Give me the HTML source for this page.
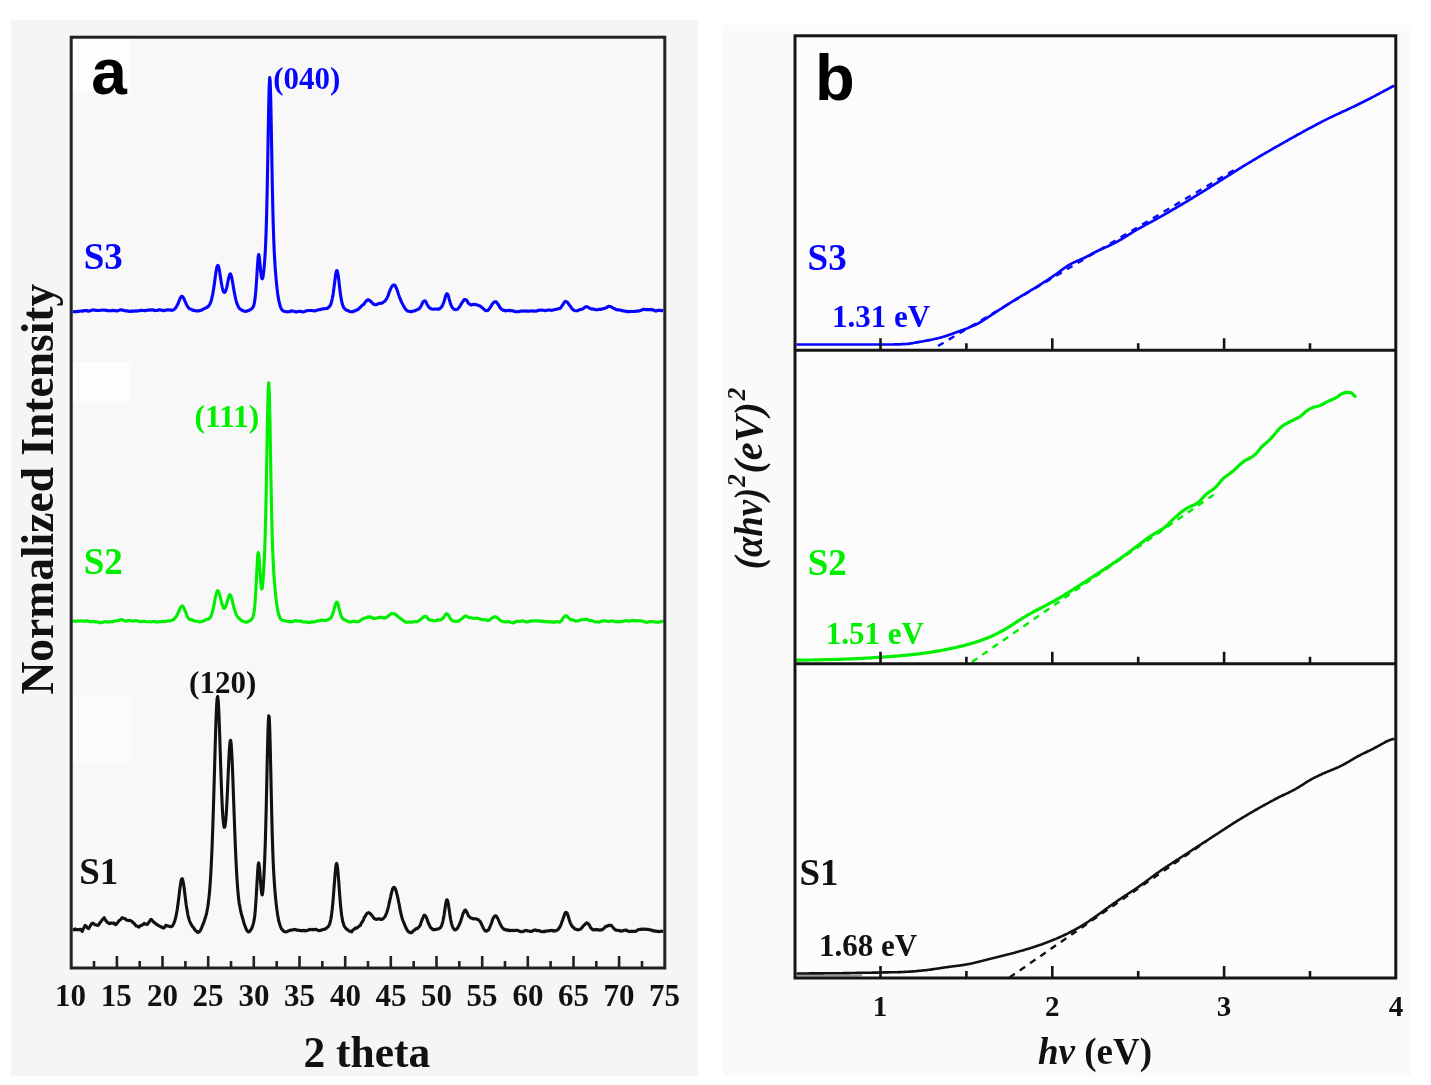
<!DOCTYPE html>
<html><head><meta charset="utf-8"><title>Figure</title>
<style>html,body{margin:0;padding:0;background:#fff;overflow:hidden}svg{display:block;filter:blur(0.5px)}</style>
</head><body><svg width="1431" height="1085" viewBox="0 0 1431 1085"><rect x="0" y="0" width="1431" height="1085" fill="#ffffff"/><rect x="11" y="20" width="687" height="1056" fill="#f5f5f5"/><rect x="723" y="25" width="688" height="1051" fill="#fafafa"/><rect x="71.2" y="37.2" width="593.5999999999999" height="930.8" fill="#f8f8f8"/><rect x="72" y="38.5" width="59" height="53" fill="#fdfdfd"/><rect x="72" y="362" width="59" height="41" fill="#fdfdfd"/><rect x="72" y="695" width="60" height="67" fill="#fcfcfc"/><rect x="796" y="351" width="60" height="56" fill="#ffffff"/><rect x="796" y="665" width="60" height="56" fill="#ffffff"/><rect x="795.0" y="35.8" width="600.8" height="942.2" fill="#fcfcfc"/><path d="M72.7,311.6L73.2,311.7L73.7,311.7L74.2,311.6L74.7,311.7L75.2,311.7L75.7,311.6L76.2,311.5L76.7,311.7L77.2,311.5L77.7,311.4L78.2,311.4L78.7,311.4L79.2,311.3L79.7,311.2L80.2,311.1L80.7,311.0L81.2,311.0L81.7,311.0L82.2,311.2L82.7,311.2L83.2,310.8L83.7,310.6L84.2,310.6L84.7,310.6L85.2,310.6L85.7,310.6L86.2,310.7L86.7,310.4L87.2,310.6L87.7,311.1L88.2,311.1L88.7,311.2L89.2,311.1L89.7,310.9L90.2,310.6L90.7,310.7L91.2,310.6L91.7,310.2L92.2,310.1L92.7,309.9L93.2,309.9L93.7,310.1L94.2,310.1L94.7,310.0L95.2,310.2L95.7,310.4L96.2,310.4L96.7,310.4L97.2,310.5L97.7,310.4L98.2,310.5L98.7,310.5L99.2,310.5L99.7,310.4L100.2,310.2L100.7,310.3L101.2,310.2L101.7,310.3L102.2,310.1L102.7,310.1L103.2,310.0L103.7,310.0L104.2,310.2L104.7,310.3L105.2,310.1L105.7,310.1L106.2,310.4L106.7,310.6L107.2,310.5L107.7,310.6L108.2,310.7L108.7,310.7L109.2,310.9L109.7,310.7L110.2,310.6L110.7,310.6L111.2,310.8L111.7,310.7L112.2,310.5L112.7,310.3L113.2,310.4L113.7,310.7L114.2,310.6L114.7,310.6L115.2,310.6L115.7,310.6L116.2,310.8L116.7,311.0L117.2,310.8L117.7,310.6L118.2,310.8L118.7,310.4L119.2,310.3L119.7,310.2L120.2,309.9L120.7,309.9L121.2,309.8L121.7,309.9L122.2,309.8L122.7,310.2L123.2,310.4L123.7,310.5L124.2,310.6L124.7,310.5L125.2,310.9L125.7,310.8L126.2,310.9L126.7,310.9L127.2,310.8L127.7,310.9L128.2,311.1L128.7,311.4L129.2,311.1L129.7,311.2L130.2,311.2L130.7,311.3L131.2,311.5L131.7,311.2L132.2,310.9L132.7,311.0L133.2,311.4L133.7,311.2L134.2,311.2L134.7,311.1L135.2,310.8L135.7,310.9L136.2,311.2L136.7,311.1L137.2,310.7L137.7,310.8L138.2,310.9L138.7,310.7L139.2,310.8L139.7,310.7L140.2,310.7L140.7,310.4L141.2,310.3L141.7,310.4L142.2,310.4L142.7,310.5L143.2,310.5L143.7,310.6L144.2,310.5L144.7,310.7L145.2,310.8L145.7,310.4L146.2,310.5L146.7,310.4L147.2,310.2L147.7,310.1L148.2,310.1L148.7,310.2L149.2,310.0L149.7,310.1L150.2,309.7L150.7,309.8L151.2,310.0L151.7,310.1L152.2,310.0L152.7,309.8L153.2,310.0L153.7,310.1L154.2,310.6L154.7,310.6L155.2,310.4L155.7,310.4L156.2,310.5L156.7,310.5L157.2,310.4L157.7,310.3L158.2,309.9L158.7,309.9L159.2,309.9L159.7,309.8L160.2,309.9L160.7,310.1L161.2,310.1L161.7,310.1L162.2,310.2L162.7,310.5L163.2,310.7L163.7,310.7L164.2,310.5L164.7,310.4L165.2,310.1L165.7,310.2L166.2,310.2L166.7,310.0L167.2,310.0L167.7,309.8L168.2,309.9L168.7,309.7L169.2,310.1L169.7,310.0L170.2,310.1L170.7,309.8L171.2,309.9L171.7,310.4L172.2,310.2L172.7,310.3L173.2,309.9L173.7,309.7L174.2,309.2L174.7,309.2L175.2,308.4L175.7,307.6L176.2,307.1L176.7,306.2L177.2,305.4L177.7,304.3L178.2,303.3L178.7,301.8L179.2,300.6L179.7,299.5L180.2,298.3L180.7,297.4L181.2,296.7L181.7,296.4L182.2,296.4L182.7,296.8L183.2,297.4L183.7,298.3L184.2,299.3L184.7,300.5L185.2,301.6L185.7,302.6L186.2,303.8L186.7,304.9L187.2,305.8L187.7,306.5L188.2,307.4L188.7,307.9L189.2,308.3L189.7,308.9L190.2,309.1L190.7,309.2L191.2,309.4L191.7,309.8L192.2,309.9L192.7,309.8L193.2,310.4L193.7,310.3L194.2,310.3L194.7,310.6L195.2,310.6L195.7,310.7L196.2,310.7L196.7,311.0L197.2,310.8L197.7,310.8L198.2,311.0L198.7,310.9L199.2,310.7L199.7,310.6L200.2,310.6L200.7,310.4L201.2,310.2L201.7,310.1L202.2,309.6L202.7,309.4L203.2,309.3L203.7,308.9L204.2,308.6L204.7,308.3L205.2,308.3L205.7,307.9L206.2,307.7L206.7,307.6L207.2,306.9L207.7,307.1L208.2,306.5L208.7,305.9L209.2,305.2L209.7,304.5L210.2,303.3L210.7,302.1L211.2,301.0L211.7,298.7L212.2,296.7L212.7,294.3L213.2,291.3L213.7,288.2L214.2,285.1L214.7,281.3L215.2,277.4L215.7,273.9L216.2,270.6L216.7,268.0L217.2,266.3L217.7,265.4L218.2,265.7L218.7,267.1L219.2,269.3L219.7,272.2L220.2,275.7L220.7,278.8L221.2,281.9L221.7,284.8L222.2,287.3L222.7,289.3L223.2,291.1L223.7,292.0L224.2,292.5L224.7,292.4L225.2,291.9L225.7,290.9L226.2,289.3L226.7,287.6L227.2,285.2L227.7,282.7L228.2,280.1L228.7,277.8L229.2,275.8L229.7,274.4L230.2,273.8L230.7,274.2L231.2,275.6L231.7,277.6L232.2,280.0L232.7,282.8L233.2,286.0L233.7,288.8L234.2,291.8L234.7,294.2L235.2,296.6L235.7,299.0L236.2,301.1L236.7,302.7L237.2,304.2L237.7,305.3L238.2,306.5L238.7,307.3L239.2,308.1L239.7,308.8L240.2,308.9L240.7,309.3L241.2,309.6L241.7,310.2L242.2,310.3L242.7,310.5L243.2,310.7L243.7,310.8L244.2,311.3L244.7,311.2L245.2,311.3L245.7,311.3L246.2,311.4L246.7,311.1L247.2,311.0L247.7,310.8L248.2,310.7L248.7,310.4L249.2,310.3L249.7,309.8L250.2,309.6L250.7,309.4L251.2,309.1L251.7,308.8L252.2,308.1L252.7,307.6L253.2,306.7L253.7,305.7L254.2,303.9L254.7,301.1L255.2,297.3L255.7,292.2L256.2,286.0L256.7,278.2L257.2,270.0L257.7,262.5L258.2,256.7L258.7,254.6L259.2,256.3L259.7,260.8L260.2,266.0L260.7,271.6L261.2,275.7L261.7,278.1L262.2,278.8L262.7,278.2L263.2,275.6L263.7,271.8L264.2,266.9L264.7,260.7L265.2,252.8L265.7,242.3L266.2,228.9L266.7,211.2L267.2,188.9L267.7,162.2L268.2,133.5L268.7,106.4L269.2,86.5L269.7,77.6L270.2,81.4L270.7,97.6L271.2,122.2L271.7,150.8L272.2,178.8L272.7,203.8L273.2,223.4L273.7,238.8L274.2,250.8L274.7,260.0L275.2,268.0L275.7,274.6L276.2,280.2L276.7,285.2L277.2,289.8L277.7,293.7L278.2,296.9L278.7,299.9L279.2,302.2L279.7,304.2L280.2,306.2L280.7,307.4L281.2,308.6L281.7,309.4L282.2,310.1L282.7,310.6L283.2,310.8L283.7,311.1L284.2,311.3L284.7,311.4L285.2,311.5L285.7,311.6L286.2,311.8L286.7,311.7L287.2,311.9L287.7,311.9L288.2,311.8L288.7,311.7L289.2,311.7L289.7,311.7L290.2,311.3L290.7,311.2L291.2,310.9L291.7,310.8L292.2,311.0L292.7,311.2L293.2,311.2L293.7,311.3L294.2,311.3L294.7,311.5L295.2,311.7L295.7,312.0L296.2,312.0L296.7,311.8L297.2,311.7L297.7,311.6L298.2,311.5L298.7,311.5L299.2,311.4L299.7,311.3L300.2,311.2L300.7,311.4L301.2,311.6L301.7,311.7L302.2,311.9L302.7,312.0L303.2,311.9L303.7,311.7L304.2,311.7L304.7,311.4L305.2,311.2L305.7,311.1L306.2,311.0L306.7,310.7L307.2,310.7L307.7,310.5L308.2,310.5L308.7,310.5L309.2,310.6L309.7,310.5L310.2,310.5L310.7,310.5L311.2,310.4L311.7,310.6L312.2,310.7L312.7,310.6L313.2,310.8L313.7,310.8L314.2,310.8L314.7,310.9L315.2,310.9L315.7,310.7L316.2,310.4L316.7,310.3L317.2,310.1L317.7,310.1L318.2,309.9L318.7,309.7L319.2,309.7L319.7,309.5L320.2,309.6L320.7,309.5L321.2,309.2L321.7,309.3L322.2,309.1L322.7,308.9L323.2,308.6L323.7,308.9L324.2,308.7L324.7,308.7L325.2,308.8L325.7,308.5L326.2,308.4L326.7,308.3L327.2,308.5L327.7,307.9L328.2,307.7L328.7,307.2L329.2,306.8L329.7,306.1L330.2,305.6L330.7,304.4L331.2,302.9L331.7,301.3L332.2,299.0L332.7,296.4L333.2,293.4L333.7,289.7L334.2,285.7L334.7,282.0L335.2,277.9L335.7,274.2L336.2,271.9L336.7,270.6L337.2,270.7L337.7,272.8L338.2,275.9L338.7,279.3L339.2,283.6L339.7,288.1L340.2,292.2L340.7,295.8L341.2,298.9L341.7,301.5L342.2,303.4L342.7,305.3L343.2,306.5L343.7,307.4L344.2,308.2L344.7,308.6L345.2,309.1L345.7,309.6L346.2,310.0L346.7,310.2L347.2,310.4L347.7,310.4L348.2,310.7L348.7,311.2L349.2,311.4L349.7,311.4L350.2,311.6L350.7,311.7L351.2,311.7L351.7,311.9L352.2,311.9L352.7,311.7L353.2,311.3L353.7,311.2L354.2,311.0L354.7,311.0L355.2,310.9L355.7,310.3L356.2,310.0L356.7,309.9L357.2,309.9L357.7,309.7L358.2,309.5L358.7,308.7L359.2,308.2L359.7,307.9L360.2,307.5L360.7,306.8L361.2,306.4L361.7,305.8L362.2,305.4L362.7,305.1L363.2,304.7L363.7,304.4L364.2,303.8L364.7,302.9L365.2,302.2L365.7,301.7L366.2,300.8L366.7,300.5L367.2,300.3L367.7,299.8L368.2,299.7L368.7,300.0L369.2,300.1L369.7,300.5L370.2,301.2L370.7,301.3L371.2,301.6L371.7,302.2L372.2,303.0L372.7,303.4L373.2,303.8L373.7,304.2L374.2,304.3L374.7,304.7L375.2,304.7L375.7,304.7L376.2,304.7L376.7,304.5L377.2,304.3L377.7,303.8L378.2,303.7L378.7,303.6L379.2,303.6L379.7,303.5L380.2,303.1L380.7,303.2L381.2,303.2L381.7,303.3L382.2,303.0L382.7,302.6L383.2,302.3L383.7,301.9L384.2,301.4L384.7,301.3L385.2,300.8L385.7,300.0L386.2,299.2L386.7,298.7L387.2,297.6L387.7,296.4L388.2,295.5L388.7,293.8L389.2,292.3L389.7,291.0L390.2,289.9L390.7,288.5L391.2,287.7L391.7,286.8L392.2,285.9L392.7,285.5L393.2,285.2L393.7,285.0L394.2,284.9L394.7,285.1L395.2,285.7L395.7,286.7L396.2,287.8L396.7,288.9L397.2,290.2L397.7,291.8L398.2,293.4L398.7,295.0L399.2,296.3L399.7,297.6L400.2,299.0L400.7,300.1L401.2,301.4L401.7,302.3L402.2,303.4L402.7,304.4L403.2,305.2L403.7,306.1L404.2,306.9L404.7,307.9L405.2,308.7L405.7,309.5L406.2,309.7L406.7,310.3L407.2,310.9L407.7,311.0L408.2,311.1L408.7,311.3L409.2,311.3L409.7,311.4L410.2,311.6L410.7,311.6L411.2,311.4L411.7,311.6L412.2,311.2L412.7,311.2L413.2,311.2L413.7,311.1L414.2,311.0L414.7,310.7L415.2,310.8L415.7,310.2L416.2,310.1L416.7,309.9L417.2,309.7L417.7,309.4L418.2,309.2L418.7,309.0L419.2,308.4L419.7,308.1L420.2,307.4L420.7,306.6L421.2,305.7L421.7,304.7L422.2,303.5L422.7,302.4L423.2,301.7L423.7,301.3L424.2,301.1L424.7,300.9L425.2,300.9L425.7,301.6L426.2,302.5L426.7,303.7L427.2,304.7L427.7,305.4L428.2,306.2L428.7,306.9L429.2,307.6L429.7,307.9L430.2,308.4L430.7,308.5L431.2,308.7L431.7,309.0L432.2,309.1L432.7,309.3L433.2,309.3L433.7,309.2L434.2,309.1L434.7,309.0L435.2,309.0L435.7,308.9L436.2,309.1L436.7,309.0L437.2,309.1L437.7,309.1L438.2,309.1L438.7,309.2L439.2,309.0L439.7,308.6L440.2,308.3L440.7,307.8L441.2,307.3L441.7,306.7L442.2,306.0L442.7,304.9L443.2,303.7L443.7,302.5L444.2,300.9L444.7,299.4L445.2,297.4L445.7,295.8L446.2,294.4L446.7,293.8L447.2,293.8L447.7,294.4L448.2,295.5L448.7,297.1L449.2,299.1L449.7,300.8L450.2,302.7L450.7,304.2L451.2,305.4L451.7,306.4L452.2,307.3L452.7,308.0L453.2,308.4L453.7,309.0L454.2,309.3L454.7,309.6L455.2,309.7L455.7,309.5L456.2,309.5L456.7,309.6L457.2,309.4L457.7,308.9L458.2,308.5L458.7,307.7L459.2,307.3L459.7,306.6L460.2,305.8L460.7,304.7L461.2,303.9L461.7,303.4L462.2,302.4L462.7,301.8L463.2,301.0L463.7,300.4L464.2,299.6L464.7,299.6L465.2,299.5L465.7,299.7L466.2,299.9L466.7,300.3L467.2,301.0L467.7,302.0L468.2,303.1L468.7,303.5L469.2,304.0L469.7,304.0L470.2,304.7L470.7,305.0L471.2,305.1L471.7,305.0L472.2,304.5L472.7,304.4L473.2,304.6L473.7,304.7L474.2,304.5L474.7,304.3L475.2,304.4L475.7,304.6L476.2,304.7L476.7,305.0L477.2,305.0L477.7,305.1L478.2,305.3L478.7,305.7L479.2,305.8L479.7,305.8L480.2,306.2L480.7,306.5L481.2,306.9L481.7,307.3L482.2,307.6L482.7,308.0L483.2,308.6L483.7,309.0L484.2,309.4L484.7,309.9L485.2,310.3L485.7,310.5L486.2,310.7L486.7,310.7L487.2,310.5L487.7,310.5L488.2,310.3L488.7,309.5L489.2,309.0L489.7,308.2L490.2,307.4L490.7,306.8L491.2,305.8L491.7,304.9L492.2,304.0L492.7,303.5L493.2,302.9L493.7,302.5L494.2,302.2L494.7,301.7L495.2,301.8L495.7,301.6L496.2,301.9L496.7,302.4L497.2,303.1L497.7,303.8L498.2,304.3L498.7,305.3L499.2,306.0L499.7,307.1L500.2,307.9L500.7,308.3L501.2,309.1L501.7,309.4L502.2,309.7L502.7,310.0L503.2,310.3L503.7,310.4L504.2,310.3L504.7,310.6L505.2,310.3L505.7,310.6L506.2,310.9L506.7,310.7L507.2,310.6L507.7,310.4L508.2,310.6L508.7,310.5L509.2,310.6L509.7,310.3L510.2,310.3L510.7,310.7L511.2,310.7L511.7,310.8L512.2,310.8L512.7,310.9L513.2,310.9L513.7,311.2L514.2,311.4L514.7,311.3L515.2,311.4L515.7,311.8L516.2,311.8L516.7,311.8L517.2,311.8L517.7,311.5L518.2,311.7L518.7,311.6L519.2,311.7L519.7,311.2L520.2,311.3L520.7,311.2L521.2,311.1L521.7,311.3L522.2,310.9L522.7,311.0L523.2,311.1L523.7,311.2L524.2,311.1L524.7,311.0L525.2,311.1L525.7,311.2L526.2,311.1L526.7,311.2L527.2,311.0L527.7,311.1L528.2,311.1L528.7,311.3L529.2,311.1L529.7,311.0L530.2,311.0L530.7,310.9L531.2,310.9L531.7,311.0L532.2,311.1L532.7,310.8L533.2,310.9L533.7,311.1L534.2,311.2L534.7,311.2L535.2,311.2L535.7,311.1L536.2,310.9L536.7,311.1L537.2,311.0L537.7,310.7L538.2,310.5L538.7,310.2L539.2,310.1L539.7,310.2L540.2,310.3L540.7,310.0L541.2,310.2L541.7,310.2L542.2,310.1L542.7,310.3L543.2,310.3L543.7,310.3L544.2,310.3L544.7,310.6L545.2,310.6L545.7,310.5L546.2,310.4L546.7,310.3L547.2,310.2L547.7,310.1L548.2,310.1L548.7,310.0L549.2,309.9L549.7,310.1L550.2,310.2L550.7,310.4L551.2,310.3L551.7,310.2L552.2,310.2L552.7,310.0L553.2,310.1L553.7,309.7L554.2,309.8L554.7,309.5L555.2,309.5L555.7,309.5L556.2,309.3L556.7,309.3L557.2,309.0L557.7,308.9L558.2,308.8L558.7,308.8L559.2,308.6L559.7,308.3L560.2,308.3L560.7,307.6L561.2,307.1L561.7,306.4L562.2,305.7L562.7,304.8L563.2,304.1L563.7,303.4L564.2,302.4L564.7,301.8L565.2,301.3L565.7,301.5L566.2,301.5L566.7,301.8L567.2,302.1L567.7,302.6L568.2,303.3L568.7,304.2L569.2,304.9L569.7,305.4L570.2,306.1L570.7,306.8L571.2,307.5L571.7,308.3L572.2,308.8L572.7,309.4L573.2,309.8L573.7,310.0L574.2,310.5L574.7,310.6L575.2,310.7L575.7,310.8L576.2,310.7L576.7,310.7L577.2,310.9L577.7,310.7L578.2,310.2L578.7,310.1L579.2,310.0L579.7,309.7L580.2,309.6L580.7,309.2L581.2,309.4L581.7,309.3L582.2,309.1L582.7,309.0L583.2,308.6L583.7,308.2L584.2,307.7L584.7,307.6L585.2,307.0L585.7,306.9L586.2,306.7L586.7,306.5L587.2,306.8L587.7,307.0L588.2,307.3L588.7,307.6L589.2,308.1L589.7,308.2L590.2,308.5L590.7,308.9L591.2,308.9L591.7,308.9L592.2,309.1L592.7,308.8L593.2,308.9L593.7,309.2L594.2,309.4L594.7,309.4L595.2,309.6L595.7,309.8L596.2,309.7L596.7,309.9L597.2,309.7L597.7,309.7L598.2,309.6L598.7,309.5L599.2,309.2L599.7,309.3L600.2,309.4L600.7,309.5L601.2,309.3L601.7,309.2L602.2,308.7L602.7,308.8L603.2,308.8L603.7,308.7L604.2,308.5L604.7,308.3L605.2,308.2L605.7,307.7L606.2,307.8L606.7,307.6L607.2,307.2L607.7,306.6L608.2,306.4L608.7,306.3L609.2,306.3L609.7,306.4L610.2,306.5L610.7,306.7L611.2,306.9L611.7,307.2L612.2,307.4L612.7,307.6L613.2,308.1L613.7,308.4L614.2,308.6L614.7,308.8L615.2,309.0L615.7,309.4L616.2,309.7L616.7,309.8L617.2,309.7L617.7,310.0L618.2,309.7L618.7,309.9L619.2,310.0L619.7,310.0L620.2,310.2L620.7,310.3L621.2,310.3L621.7,310.3L622.2,310.7L622.7,310.7L623.2,311.0L623.7,311.0L624.2,311.1L624.7,311.1L625.2,311.1L625.7,311.2L626.2,311.4L626.7,311.6L627.2,311.4L627.7,311.7L628.2,311.5L628.7,311.6L629.2,311.7L629.7,311.6L630.2,311.5L630.7,311.4L631.2,311.5L631.7,311.4L632.2,311.5L632.7,311.6L633.2,311.4L633.7,311.5L634.2,311.4L634.7,311.5L635.2,311.4L635.7,311.3L636.2,311.1L636.7,311.0L637.2,311.2L637.7,311.0L638.2,311.0L638.7,310.9L639.2,311.0L639.7,310.8L640.2,310.6L640.7,310.5L641.2,310.2L641.7,310.0L642.2,309.8L642.7,309.7L643.2,309.4L643.7,309.3L644.2,309.5L644.7,309.4L645.2,309.6L645.7,309.7L646.2,309.6L646.7,309.7L647.2,309.5L647.7,309.4L648.2,309.8L648.7,309.6L649.2,309.6L649.7,309.6L650.2,309.6L650.7,309.4L651.2,309.6L651.7,309.9L652.2,309.5L652.7,309.9L653.2,309.9L653.7,310.2L654.2,310.3L654.7,310.7L655.2,310.9L655.7,310.8L656.2,310.8L656.7,310.9L657.2,310.6L657.7,310.3L658.2,310.5L658.7,310.5L659.2,310.2L659.7,310.2L660.2,310.4L660.7,310.4L661.2,310.8L661.7,310.7L662.2,310.5L662.7,310.4L663.2,310.5" fill="none" stroke="#0505ff" stroke-width="3.1" stroke-linejoin="round"/><path d="M72.7,620.8L73.2,621.0L73.7,621.1L74.2,621.0L74.7,621.1L75.2,621.1L75.7,621.1L76.2,621.2L76.7,621.5L77.2,621.2L77.7,621.0L78.2,621.0L78.7,620.9L79.2,621.0L79.7,620.9L80.2,620.8L80.7,620.8L81.2,620.9L81.7,621.0L82.2,621.0L82.7,621.1L83.2,620.9L83.7,621.1L84.2,621.4L84.7,621.3L85.2,621.0L85.7,620.8L86.2,620.9L86.7,620.9L87.2,621.2L87.7,621.2L88.2,621.0L88.7,621.3L89.2,621.5L89.7,621.8L90.2,621.6L90.7,621.6L91.2,621.5L91.7,621.7L92.2,621.6L92.7,621.5L93.2,621.5L93.7,621.5L94.2,621.7L94.7,621.9L95.2,621.7L95.7,621.6L96.2,621.9L96.7,621.9L97.2,622.0L97.7,622.1L98.2,622.1L98.7,622.1L99.2,622.7L99.7,622.6L100.2,622.5L100.7,622.6L101.2,622.6L101.7,622.5L102.2,622.5L102.7,622.3L103.2,622.1L103.7,622.0L104.2,621.8L104.7,621.6L105.2,621.7L105.7,621.7L106.2,621.9L106.7,621.9L107.2,621.7L107.7,621.8L108.2,622.0L108.7,622.1L109.2,621.8L109.7,622.0L110.2,621.8L110.7,621.7L111.2,621.7L111.7,621.5L112.2,621.6L112.7,621.6L113.2,621.6L113.7,621.2L114.2,621.0L114.7,620.9L115.2,621.0L115.7,620.9L116.2,620.8L116.7,620.7L117.2,620.7L117.7,620.6L118.2,620.6L118.7,620.5L119.2,620.3L119.7,620.2L120.2,619.9L120.7,619.9L121.2,619.6L121.7,619.7L122.2,619.8L122.7,619.9L123.2,620.0L123.7,620.4L124.2,620.6L124.7,620.6L125.2,621.1L125.7,621.0L126.2,621.1L126.7,620.9L127.2,620.9L127.7,620.4L128.2,620.5L128.7,620.6L129.2,620.3L129.7,620.7L130.2,620.7L130.7,620.8L131.2,620.7L131.7,621.0L132.2,620.9L132.7,621.0L133.2,621.2L133.7,621.0L134.2,620.8L134.7,620.8L135.2,620.8L135.7,620.7L136.2,620.8L136.7,620.8L137.2,620.9L137.7,620.9L138.2,621.0L138.7,621.1L139.2,621.5L139.7,621.6L140.2,621.8L140.7,621.6L141.2,621.4L141.7,621.5L142.2,621.4L142.7,621.6L143.2,621.2L143.7,621.3L144.2,621.1L144.7,621.5L145.2,621.6L145.7,621.7L146.2,621.7L146.7,621.7L147.2,621.8L147.7,621.7L148.2,621.8L148.7,621.6L149.2,621.7L149.7,621.7L150.2,621.9L150.7,621.9L151.2,621.9L151.7,621.8L152.2,621.8L152.7,621.6L153.2,621.7L153.7,621.5L154.2,621.4L154.7,621.6L155.2,621.8L155.7,621.9L156.2,621.8L156.7,622.1L157.2,622.0L157.7,621.9L158.2,622.1L158.7,622.0L159.2,621.7L159.7,621.6L160.2,621.6L160.7,621.6L161.2,621.6L161.7,621.6L162.2,621.3L162.7,621.2L163.2,621.4L163.7,621.5L164.2,621.7L164.7,621.5L165.2,621.4L165.7,621.2L166.2,621.3L166.7,621.3L167.2,621.3L167.7,620.9L168.2,620.8L168.7,621.0L169.2,620.9L169.7,620.9L170.2,621.0L170.7,620.5L171.2,620.5L171.7,620.4L172.2,620.3L172.7,619.7L173.2,619.7L173.7,619.5L174.2,618.8L174.7,618.4L175.2,617.8L175.7,617.4L176.2,616.6L176.7,615.8L177.2,614.7L177.7,613.6L178.2,612.7L178.7,611.7L179.2,610.4L179.7,609.1L180.2,608.1L180.7,606.9L181.2,606.5L181.7,606.1L182.2,605.9L182.7,606.0L183.2,606.9L183.7,607.8L184.2,608.7L184.7,609.9L185.2,611.0L185.7,612.1L186.2,613.3L186.7,615.0L187.2,616.2L187.7,617.1L188.2,617.9L188.7,618.8L189.2,618.9L189.7,619.5L190.2,619.8L190.7,619.6L191.2,619.4L191.7,619.6L192.2,619.9L192.7,620.0L193.2,620.6L193.7,620.6L194.2,620.7L194.7,620.8L195.2,621.1L195.7,621.2L196.2,621.3L196.7,621.5L197.2,621.3L197.7,621.4L198.2,621.6L198.7,621.7L199.2,621.9L199.7,621.9L200.2,621.8L200.7,621.6L201.2,621.7L201.7,621.5L202.2,621.5L202.7,621.4L203.2,621.0L203.7,620.6L204.2,620.5L204.7,620.3L205.2,620.0L205.7,619.8L206.2,619.5L206.7,619.4L207.2,619.3L207.7,619.3L208.2,619.1L208.7,618.9L209.2,618.7L209.7,618.1L210.2,617.7L210.7,616.9L211.2,615.7L211.7,614.3L212.2,612.8L212.7,610.8L213.2,608.6L213.7,606.5L214.2,603.7L214.7,601.0L215.2,598.5L215.7,596.0L216.2,593.7L216.7,592.4L217.2,591.2L217.7,590.7L218.2,591.0L218.7,592.0L219.2,593.4L219.7,594.9L220.2,596.9L220.7,598.8L221.2,601.2L221.7,603.0L222.2,604.7L222.7,605.9L223.2,607.2L223.7,608.2L224.2,608.4L224.7,608.1L225.2,607.1L225.7,606.3L226.2,605.0L226.7,603.5L227.2,601.7L227.7,599.9L228.2,598.3L228.7,596.7L229.2,595.6L229.7,594.6L230.2,594.7L230.7,595.6L231.2,596.5L231.7,598.1L232.2,600.1L232.7,602.2L233.2,604.5L233.7,606.6L234.2,608.6L234.7,610.0L235.2,611.8L235.7,613.3L236.2,614.4L236.7,615.3L237.2,616.1L237.7,617.1L238.2,617.5L238.7,618.2L239.2,618.5L239.7,618.8L240.2,619.4L240.7,619.9L241.2,620.6L241.7,620.7L242.2,620.9L242.7,620.9L243.2,621.4L243.7,621.6L244.2,621.7L244.7,621.9L245.2,621.9L245.7,622.1L246.2,622.1L246.7,622.2L247.2,622.1L247.7,621.8L248.2,621.6L248.7,621.5L249.2,621.2L249.7,620.8L250.2,620.6L250.7,620.1L251.2,619.6L251.7,619.2L252.2,618.4L252.7,617.3L253.2,615.9L253.7,614.0L254.2,610.8L254.7,606.7L255.2,600.4L255.7,592.6L256.2,583.4L256.7,573.5L257.2,563.9L257.7,556.0L258.2,552.6L258.7,553.7L259.2,559.4L259.7,567.0L260.2,574.8L260.7,581.6L261.2,586.5L261.7,589.1L262.2,588.5L262.7,584.5L263.2,578.2L263.7,570.6L264.2,561.4L264.7,550.0L265.2,535.2L265.7,515.9L266.2,491.9L266.7,464.0L267.2,434.9L267.7,408.5L268.2,389.6L268.7,382.8L269.2,389.4L269.7,408.0L270.2,434.5L270.7,464.1L271.2,491.9L271.7,516.3L272.2,535.7L272.7,550.6L273.2,562.2L273.7,571.4L274.2,578.7L274.7,584.9L275.2,590.9L275.7,595.8L276.2,599.9L276.7,604.0L277.2,607.4L277.7,610.1L278.2,612.5L278.7,614.6L279.2,616.0L279.7,617.1L280.2,618.6L280.7,619.0L281.2,619.5L281.7,620.0L282.2,620.2L282.7,620.4L283.2,620.5L283.7,620.6L284.2,620.5L284.7,620.8L285.2,620.7L285.7,621.1L286.2,621.1L286.7,621.2L287.2,621.3L287.7,621.4L288.2,621.6L288.7,621.5L289.2,621.7L289.7,621.5L290.2,621.5L290.7,621.6L291.2,621.5L291.7,621.9L292.2,621.8L292.7,621.7L293.2,621.4L293.7,621.1L294.2,621.2L294.7,620.9L295.2,620.9L295.7,620.5L296.2,620.6L296.7,620.9L297.2,621.0L297.7,621.1L298.2,621.1L298.7,621.0L299.2,621.1L299.7,621.1L300.2,621.2L300.7,621.0L301.2,621.2L301.7,621.4L302.2,621.5L302.7,621.7L303.2,621.9L303.7,622.0L304.2,622.0L304.7,622.0L305.2,622.1L305.7,621.8L306.2,622.0L306.7,622.0L307.2,622.3L307.7,622.4L308.2,622.4L308.7,622.3L309.2,622.3L309.7,622.6L310.2,622.3L310.7,622.2L311.2,621.8L311.7,621.9L312.2,621.8L312.7,622.0L313.2,622.0L313.7,621.9L314.2,621.9L314.7,621.8L315.2,621.6L315.7,621.5L316.2,621.5L316.7,621.2L317.2,620.9L317.7,620.9L318.2,620.8L318.7,620.8L319.2,620.8L319.7,620.9L320.2,620.5L320.7,620.3L321.2,620.4L321.7,620.2L322.2,620.2L322.7,620.1L323.2,620.3L323.7,620.1L324.2,620.4L324.7,620.6L325.2,620.4L325.7,620.5L326.2,620.4L326.7,620.3L327.2,619.9L327.7,619.9L328.2,619.6L328.7,619.3L329.2,619.0L329.7,618.8L330.2,618.6L330.7,618.1L331.2,617.5L331.7,616.3L332.2,615.3L332.7,614.1L333.2,612.6L333.7,610.8L334.2,608.9L334.7,606.9L335.2,605.1L335.7,603.7L336.2,602.5L336.7,602.0L337.2,602.2L337.7,603.2L338.2,604.6L338.7,606.6L339.2,608.8L339.7,610.8L340.2,612.6L340.7,614.3L341.2,616.1L341.7,617.1L342.2,618.0L342.7,618.6L343.2,619.0L343.7,619.5L344.2,619.6L344.7,619.9L345.2,619.9L345.7,620.1L346.2,620.4L346.7,620.6L347.2,621.2L347.7,621.4L348.2,621.6L348.7,621.7L349.2,621.9L349.7,622.1L350.2,622.1L350.7,622.0L351.2,621.7L351.7,621.6L352.2,621.5L352.7,621.3L353.2,621.4L353.7,621.4L354.2,621.4L354.7,621.3L355.2,621.4L355.7,621.4L356.2,621.8L356.7,621.8L357.2,621.7L357.7,621.6L358.2,621.8L358.7,621.6L359.2,621.4L359.7,621.0L360.2,620.6L360.7,620.2L361.2,620.0L361.7,619.5L362.2,619.1L362.7,618.9L363.2,618.7L363.7,618.6L364.2,618.4L364.7,618.0L365.2,618.0L365.7,618.0L366.2,617.7L366.7,617.7L367.2,617.3L367.7,616.9L368.2,616.9L368.7,617.3L369.2,617.0L369.7,616.8L370.2,617.1L370.7,616.9L371.2,617.3L371.7,617.7L372.2,617.9L372.7,617.8L373.2,618.4L373.7,618.4L374.2,618.3L374.7,618.5L375.2,618.4L375.7,618.2L376.2,618.3L376.7,618.3L377.2,617.7L377.7,617.7L378.2,617.7L378.7,617.6L379.2,617.4L379.7,617.5L380.2,617.3L380.7,617.2L381.2,617.4L381.7,617.3L382.2,617.4L382.7,617.4L383.2,617.8L383.7,618.1L384.2,618.1L384.7,617.8L385.2,617.8L385.7,617.9L386.2,617.5L386.7,617.1L387.2,616.9L387.7,616.3L388.2,615.8L388.7,615.6L389.2,615.1L389.7,614.8L390.2,614.5L390.7,614.1L391.2,613.7L391.7,613.4L392.2,613.5L392.7,613.6L393.2,613.6L393.7,613.5L394.2,613.7L394.7,614.1L395.2,614.3L395.7,614.7L396.2,615.0L396.7,615.2L397.2,615.8L397.7,616.3L398.2,616.7L398.7,617.0L399.2,617.4L399.7,617.8L400.2,618.3L400.7,618.7L401.2,618.9L401.7,619.3L402.2,619.9L402.7,620.3L403.2,620.5L403.7,620.7L404.2,621.1L404.7,621.5L405.2,621.8L405.7,622.2L406.2,622.0L406.7,622.0L407.2,622.3L407.7,622.3L408.2,622.0L408.7,622.0L409.2,622.1L409.7,621.9L410.2,622.1L410.7,622.3L411.2,622.1L411.7,622.1L412.2,622.1L412.7,621.9L413.2,621.8L413.7,621.9L414.2,621.6L414.7,621.7L415.2,621.6L415.7,621.7L416.2,621.7L416.7,621.7L417.2,621.5L417.7,621.4L418.2,621.3L418.7,620.7L419.2,620.5L419.7,620.1L420.2,619.7L420.7,619.2L421.2,618.8L421.7,618.4L422.2,618.2L422.7,617.7L423.2,617.3L423.7,616.9L424.2,616.4L424.7,616.4L425.2,616.4L425.7,616.4L426.2,616.4L426.7,617.2L427.2,617.7L427.7,618.2L428.2,619.0L428.7,619.3L429.2,619.7L429.7,619.9L430.2,620.2L430.7,620.1L431.2,620.1L431.7,620.3L432.2,620.3L432.7,620.5L433.2,620.9L433.7,620.8L434.2,620.8L434.7,620.8L435.2,620.8L435.7,620.5L436.2,620.5L436.7,620.3L437.2,619.9L437.7,620.1L438.2,620.1L438.7,619.8L439.2,620.0L439.7,620.1L440.2,619.8L440.7,619.8L441.2,619.6L441.7,619.1L442.2,618.9L442.7,618.5L443.2,617.8L443.7,617.1L444.2,616.6L444.7,615.9L445.2,615.1L445.7,614.5L446.2,613.7L446.7,613.7L447.2,613.9L447.7,614.3L448.2,614.7L448.7,615.5L449.2,616.4L449.7,617.4L450.2,618.3L450.7,619.0L451.2,619.4L451.7,620.0L452.2,620.7L452.7,621.0L453.2,621.0L453.7,621.0L454.2,621.1L454.7,621.1L455.2,621.4L455.7,621.3L456.2,621.1L456.7,621.1L457.2,621.4L457.7,621.5L458.2,621.4L458.7,621.1L459.2,620.5L459.7,620.3L460.2,619.9L460.7,619.5L461.2,619.1L461.7,618.8L462.2,618.4L462.7,618.1L463.2,617.6L463.7,616.9L464.2,616.7L464.7,616.5L465.2,616.2L465.7,616.0L466.2,616.0L466.7,616.3L467.2,616.6L467.7,616.9L468.2,617.3L468.7,617.2L469.2,617.6L469.7,617.8L470.2,617.8L470.7,617.7L471.2,617.8L471.7,618.0L472.2,618.0L472.7,618.4L473.2,618.3L473.7,618.3L474.2,618.3L474.7,618.3L475.2,618.5L475.7,618.2L476.2,618.3L476.7,618.0L477.2,618.1L477.7,618.2L478.2,618.4L478.7,618.6L479.2,618.5L479.7,618.9L480.2,619.0L480.7,619.2L481.2,619.3L481.7,619.5L482.2,619.6L482.7,619.7L483.2,619.7L483.7,619.7L484.2,619.6L484.7,619.8L485.2,619.7L485.7,619.8L486.2,620.2L486.7,620.1L487.2,620.4L487.7,620.5L488.2,620.5L488.7,620.2L489.2,620.3L489.7,620.1L490.2,619.5L490.7,619.1L491.2,618.5L491.7,618.1L492.2,617.9L492.7,617.7L493.2,617.4L493.7,617.1L494.2,616.8L494.7,616.8L495.2,617.0L495.7,616.9L496.2,617.0L496.7,617.4L497.2,617.8L497.7,618.0L498.2,618.3L498.7,618.9L499.2,619.4L499.7,620.1L500.2,620.3L500.7,620.6L501.2,620.7L501.7,621.1L502.2,621.3L502.7,621.4L503.2,621.7L503.7,621.7L504.2,621.6L504.7,621.8L505.2,622.0L505.7,621.9L506.2,621.9L506.7,621.8L507.2,621.8L507.7,621.7L508.2,621.7L508.7,621.6L509.2,621.6L509.7,622.0L510.2,622.0L510.7,622.3L511.2,622.4L511.7,622.5L512.2,622.9L512.7,622.8L513.2,622.9L513.7,622.5L514.2,622.7L514.7,622.2L515.2,621.8L515.7,621.7L516.2,621.3L516.7,621.4L517.2,621.4L517.7,621.4L518.2,621.4L518.7,621.5L519.2,621.4L519.7,621.5L520.2,621.5L520.7,621.4L521.2,621.1L521.7,620.8L522.2,620.7L522.7,620.7L523.2,621.1L523.7,621.1L524.2,621.3L524.7,621.3L525.2,621.6L525.7,621.8L526.2,621.8L526.7,621.9L527.2,622.0L527.7,621.9L528.2,621.5L528.7,621.7L529.2,621.4L529.7,621.4L530.2,621.3L530.7,621.0L531.2,620.9L531.7,620.9L532.2,621.0L532.7,620.8L533.2,620.9L533.7,621.0L534.2,621.0L534.7,621.0L535.2,620.8L535.7,620.6L536.2,620.8L536.7,620.7L537.2,620.7L537.7,620.7L538.2,621.1L538.7,621.3L539.2,621.0L539.7,621.1L540.2,621.0L540.7,621.2L541.2,621.4L541.7,621.5L542.2,621.0L542.7,620.9L543.2,621.3L543.7,621.5L544.2,621.7L544.7,621.6L545.2,621.6L545.7,621.3L546.2,621.6L546.7,621.7L547.2,622.0L547.7,621.9L548.2,621.5L548.7,621.8L549.2,621.6L549.7,622.0L550.2,622.0L550.7,621.8L551.2,621.7L551.7,621.8L552.2,622.2L552.7,621.9L553.2,622.2L553.7,622.0L554.2,622.1L554.7,622.1L555.2,621.8L555.7,621.7L556.2,621.6L556.7,621.9L557.2,621.7L557.7,621.8L558.2,621.7L558.7,622.1L559.2,622.1L559.7,622.1L560.2,621.8L560.7,621.3L561.2,620.8L561.7,620.5L562.2,619.8L562.7,618.7L563.2,618.2L563.7,617.3L564.2,616.8L564.7,616.4L565.2,616.0L565.7,615.7L566.2,615.7L566.7,616.0L567.2,616.3L567.7,617.1L568.2,617.5L568.7,617.8L569.2,618.3L569.7,618.9L570.2,619.2L570.7,619.5L571.2,619.8L571.7,619.5L572.2,619.6L572.7,620.0L573.2,620.3L573.7,620.1L574.2,620.4L574.7,620.6L575.2,620.9L575.7,621.1L576.2,621.1L576.7,621.0L577.2,620.9L577.7,621.0L578.2,620.9L578.7,620.7L579.2,620.2L579.7,620.2L580.2,620.0L580.7,619.8L581.2,619.7L581.7,619.7L582.2,619.7L582.7,619.5L583.2,619.7L583.7,619.7L584.2,619.8L584.7,619.6L585.2,619.3L585.7,619.3L586.2,619.3L586.7,619.5L587.2,619.3L587.7,619.5L588.2,619.8L588.7,620.1L589.2,620.5L589.7,620.3L590.2,620.4L590.7,620.3L591.2,620.7L591.7,620.7L592.2,620.7L592.7,621.0L593.2,621.1L593.7,621.4L594.2,621.5L594.7,621.8L595.2,621.8L595.7,621.9L596.2,622.0L596.7,621.8L597.2,621.8L597.7,621.8L598.2,622.0L598.7,622.0L599.2,622.1L599.7,621.8L600.2,621.6L600.7,621.4L601.2,621.5L601.7,621.5L602.2,621.0L602.7,620.8L603.2,620.8L603.7,620.8L604.2,620.8L604.7,621.0L605.2,620.9L605.7,620.9L606.2,621.0L606.7,621.1L607.2,621.3L607.7,621.2L608.2,621.4L608.7,621.4L609.2,621.3L609.7,621.4L610.2,621.1L610.7,621.1L611.2,620.9L611.7,621.0L612.2,621.0L612.7,621.0L613.2,621.2L613.7,621.2L614.2,621.4L614.7,621.6L615.2,621.6L615.7,621.7L616.2,621.9L616.7,621.7L617.2,621.6L617.7,621.6L618.2,621.6L618.7,621.8L619.2,621.9L619.7,621.8L620.2,621.4L620.7,621.5L621.2,621.6L621.7,621.6L622.2,621.5L622.7,621.3L623.2,621.2L623.7,621.1L624.2,621.1L624.7,621.0L625.2,620.8L625.7,620.6L626.2,620.7L626.7,620.8L627.2,620.8L627.7,621.0L628.2,621.1L628.7,621.3L629.2,621.0L629.7,620.9L630.2,620.9L630.7,620.6L631.2,620.6L631.7,620.7L632.2,620.4L632.7,620.3L633.2,620.7L633.7,620.8L634.2,620.5L634.7,620.7L635.2,620.6L635.7,620.6L636.2,620.9L636.7,620.9L637.2,620.9L637.7,620.8L638.2,620.9L638.7,620.7L639.2,620.8L639.7,620.8L640.2,620.8L640.7,620.9L641.2,620.8L641.7,620.9L642.2,621.1L642.7,621.1L643.2,621.5L643.7,621.4L644.2,621.7L644.7,621.9L645.2,621.9L645.7,622.1L646.2,622.1L646.7,622.4L647.2,622.2L647.7,622.2L648.2,621.9L648.7,621.7L649.2,621.7L649.7,621.6L650.2,621.6L650.7,621.6L651.2,621.6L651.7,621.6L652.2,621.8L652.7,621.6L653.2,621.8L653.7,621.8L654.2,621.9L654.7,621.9L655.2,622.0L655.7,622.1L656.2,622.1L656.7,622.2L657.2,622.3L657.7,622.1L658.2,622.2L658.7,622.3L659.2,622.1L659.7,622.0L660.2,621.6L660.7,621.5L661.2,621.5L661.7,621.7L662.2,621.5L662.7,621.3L663.2,621.4" fill="none" stroke="#00ee00" stroke-width="3.1" stroke-linejoin="round"/><path d="M72.7,929.9L73.2,929.8L73.7,929.8L74.2,929.4L74.7,929.3L75.2,928.8L75.7,929.8L76.2,929.7L76.7,929.7L77.2,929.7L77.7,929.6L78.2,929.7L78.7,929.7L79.2,929.8L79.7,929.2L80.2,929.3L80.7,929.3L81.2,929.9L81.7,930.8L82.2,931.3L82.7,930.2L83.2,929.0L83.7,928.1L84.2,927.2L84.7,926.2L85.2,925.4L85.7,925.9L86.2,926.2L86.7,926.8L87.2,927.6L87.7,928.1L88.2,928.4L88.7,928.6L89.2,927.5L89.7,926.8L90.2,926.0L90.7,925.1L91.2,924.3L91.7,923.6L92.2,923.3L92.7,923.1L93.2,923.6L93.7,923.6L94.2,924.1L94.7,924.6L95.2,924.6L95.7,924.8L96.2,925.0L96.7,925.1L97.2,925.3L97.7,925.5L98.2,925.3L98.7,924.7L99.2,924.1L99.7,922.9L100.2,922.5L100.7,922.1L101.2,921.2L101.7,920.6L102.2,919.9L102.7,919.5L103.2,918.6L103.7,918.3L104.2,917.7L104.7,918.7L105.2,919.5L105.7,920.3L106.2,921.3L106.7,921.4L107.2,922.3L107.7,922.6L108.2,922.9L108.7,922.9L109.2,923.6L109.7,923.6L110.2,923.4L110.7,923.1L111.2,923.0L111.7,923.2L112.2,923.2L112.7,923.4L113.2,923.1L113.7,922.9L114.2,923.1L114.7,923.8L115.2,924.4L115.7,924.7L116.2,924.4L116.7,923.6L117.2,923.0L117.7,922.6L118.2,921.9L118.7,921.2L119.2,920.4L119.7,920.3L120.2,919.9L120.7,919.4L121.2,918.8L121.7,918.1L122.2,917.7L122.7,918.2L123.2,918.2L123.7,918.3L124.2,918.3L124.7,918.6L125.2,918.8L125.7,919.4L126.2,919.9L126.7,920.2L127.2,920.2L127.7,920.3L128.2,920.4L128.7,920.6L129.2,920.4L129.7,920.4L130.2,920.6L130.7,920.5L131.2,921.0L131.7,921.3L132.2,921.7L132.7,922.1L133.2,923.1L133.7,923.2L134.2,923.5L134.7,924.1L135.2,924.9L135.7,925.4L136.2,926.0L136.7,926.0L137.2,926.0L137.7,926.3L138.2,926.7L138.7,927.1L139.2,926.8L139.7,926.3L140.2,925.9L140.7,925.6L141.2,925.2L141.7,925.2L142.2,925.0L142.7,924.6L143.2,924.3L143.7,923.9L144.2,923.3L144.7,923.6L145.2,924.1L145.7,924.2L146.2,924.0L146.7,924.2L147.2,924.5L147.7,923.8L148.2,923.4L148.7,922.7L149.2,921.8L149.7,921.2L150.2,920.4L150.7,919.7L151.2,919.4L151.7,919.9L152.2,920.4L152.7,920.9L153.2,921.5L153.7,922.2L154.2,922.4L154.7,923.0L155.2,923.1L155.7,923.6L156.2,924.1L156.7,924.4L157.2,924.7L157.7,924.7L158.2,925.5L158.7,925.6L159.2,925.9L159.7,926.2L160.2,926.2L160.7,926.6L161.2,926.9L161.7,927.4L162.2,927.4L162.7,927.6L163.2,927.9L163.7,928.1L164.2,927.7L164.7,926.8L165.2,926.1L165.7,925.4L166.2,925.4L166.7,925.8L167.2,926.0L167.7,925.9L168.2,926.1L168.7,926.1L169.2,926.3L169.7,926.4L170.2,926.6L170.7,926.7L171.2,926.7L171.7,926.4L172.2,926.1L172.7,925.6L173.2,924.6L173.7,923.6L174.2,922.3L174.7,921.1L175.2,919.2L175.7,917.5L176.2,915.2L176.7,912.4L177.2,909.7L177.7,906.0L178.2,902.5L178.7,898.4L179.2,894.2L179.7,890.0L180.2,886.4L180.7,883.2L181.2,880.3L181.7,879.0L182.2,878.6L182.7,879.8L183.2,882.2L183.7,884.9L184.2,888.7L184.7,892.7L185.2,896.9L185.7,901.0L186.2,904.9L186.7,907.9L187.2,910.8L187.7,913.8L188.2,916.1L188.7,917.9L189.2,919.9L189.7,921.3L190.2,922.4L190.7,923.5L191.2,924.4L191.7,925.1L192.2,926.1L192.7,927.0L193.2,927.4L193.7,927.8L194.2,928.5L194.7,929.6L195.2,930.2L195.7,930.8L196.2,931.0L196.7,931.3L197.2,932.1L197.7,932.3L198.2,932.4L198.7,932.0L199.2,931.8L199.7,931.1L200.2,930.7L200.7,929.9L201.2,928.7L201.7,927.6L202.2,926.2L202.7,925.0L203.2,923.8L203.7,922.7L204.2,921.1L204.7,919.6L205.2,918.0L205.7,916.5L206.2,914.7L206.7,912.5L207.2,910.0L207.7,907.3L208.2,903.8L208.7,899.8L209.2,895.3L209.7,889.9L210.2,883.2L210.7,875.4L211.2,866.2L211.7,855.6L212.2,843.2L212.7,829.7L213.2,814.7L213.7,798.0L214.2,781.0L214.7,763.3L215.2,745.7L215.7,729.1L216.2,715.0L216.7,704.0L217.2,697.8L217.7,696.5L218.2,700.5L218.7,708.9L219.2,721.2L219.7,735.5L220.2,750.9L220.7,766.4L221.2,780.9L221.7,794.3L222.2,805.2L222.7,814.6L223.2,821.1L223.7,825.1L224.2,827.3L224.7,827.3L225.2,824.9L225.7,820.9L226.2,814.9L226.7,806.4L227.2,796.3L227.7,785.3L228.2,773.8L228.7,762.6L229.2,752.9L229.7,745.3L230.2,740.7L230.7,740.4L231.2,744.3L231.7,751.9L232.2,762.3L232.7,774.6L233.2,788.3L233.7,802.3L234.2,816.3L234.7,829.8L235.2,842.4L235.7,854.3L236.2,864.8L236.7,873.9L237.2,881.9L237.7,888.8L238.2,894.5L238.7,899.3L239.2,903.2L239.7,905.6L240.2,908.5L240.7,910.9L241.2,913.2L241.7,915.0L242.2,916.7L242.7,918.5L243.2,920.0L243.7,922.1L244.2,923.7L244.7,925.3L245.2,926.5L245.7,927.8L246.2,929.3L246.7,929.9L247.2,930.9L247.7,931.5L248.2,932.0L248.7,932.0L249.2,931.7L249.7,931.4L250.2,930.7L250.7,930.2L251.2,929.3L251.7,928.5L252.2,927.0L252.7,925.9L253.2,924.1L253.7,922.0L254.2,919.7L254.7,916.0L255.2,911.1L255.7,904.4L256.2,896.9L256.7,888.0L257.2,879.0L257.7,870.8L258.2,864.7L258.7,862.9L259.2,865.1L259.7,870.8L260.2,877.4L260.7,884.0L261.2,889.9L261.7,893.7L262.2,894.9L262.7,892.3L263.2,887.1L263.7,879.4L264.2,870.2L264.7,859.2L265.2,845.5L265.7,828.4L266.2,808.2L266.7,785.7L267.2,762.2L267.7,740.8L268.2,724.4L268.7,715.9L269.2,716.8L269.7,727.6L270.2,745.3L270.7,767.3L271.2,790.7L271.7,813.0L272.2,832.9L272.7,849.2L273.2,862.1L273.7,872.3L274.2,880.7L274.7,887.7L275.2,893.9L275.7,899.3L276.2,903.9L276.7,908.1L277.2,911.9L277.7,915.2L278.2,917.9L278.7,920.7L279.2,922.4L279.7,924.2L280.2,925.9L280.7,927.0L281.2,928.3L281.7,929.1L282.2,929.8L282.7,930.0L283.2,930.8L283.7,931.2L284.2,931.5L284.7,931.8L285.2,931.8L285.7,931.8L286.2,931.9L286.7,931.8L287.2,931.6L287.7,931.4L288.2,930.9L288.7,930.7L289.2,930.6L289.7,930.6L290.2,930.1L290.7,930.3L291.2,930.1L291.7,930.1L292.2,930.0L292.7,929.8L293.2,929.8L293.7,929.6L294.2,929.6L294.7,929.4L295.2,929.7L295.7,929.6L296.2,929.9L296.7,930.2L297.2,930.0L297.7,930.0L298.2,930.0L298.7,930.3L299.2,930.4L299.7,930.6L300.2,930.6L300.7,930.4L301.2,930.6L301.7,930.7L302.2,930.9L302.7,930.8L303.2,930.5L303.7,930.3L304.2,930.3L304.7,930.6L305.2,930.9L305.7,930.9L306.2,930.8L306.7,930.3L307.2,930.4L307.7,930.4L308.2,930.3L308.7,930.1L309.2,929.5L309.7,929.4L310.2,929.4L310.7,929.6L311.2,929.7L311.7,929.8L312.2,929.8L312.7,929.4L313.2,929.7L313.7,929.7L314.2,929.5L314.7,929.6L315.2,929.4L315.7,929.2L316.2,929.5L316.7,929.8L317.2,929.9L317.7,930.1L318.2,930.4L318.7,930.5L319.2,930.7L319.7,930.8L320.2,930.4L320.7,930.4L321.2,930.1L321.7,930.0L322.2,929.8L322.7,929.6L323.2,929.4L323.7,929.4L324.2,929.5L324.7,929.2L325.2,929.0L325.7,928.5L326.2,928.3L326.7,927.9L327.2,927.5L327.7,927.2L328.2,926.5L328.7,925.9L329.2,924.9L329.7,923.8L330.2,922.0L330.7,919.8L331.2,917.1L331.7,913.5L332.2,909.4L332.7,904.3L333.2,898.5L333.7,892.1L334.2,885.7L334.7,879.0L335.2,872.8L335.7,867.6L336.2,864.2L336.7,863.5L337.2,865.4L337.7,869.4L338.2,874.8L338.7,881.2L339.2,888.2L339.7,895.0L340.2,901.3L340.7,906.8L341.2,911.6L341.7,915.5L342.2,918.5L342.7,921.4L343.2,923.1L343.7,924.6L344.2,925.9L344.7,926.8L345.2,927.5L345.7,928.2L346.2,928.9L346.7,929.2L347.2,929.7L347.7,929.7L348.2,930.2L348.7,930.7L349.2,931.0L349.7,931.2L350.2,931.2L350.7,931.3L351.2,931.6L351.7,931.9L352.2,931.1L352.7,930.2L353.2,929.8L353.7,929.5L354.2,929.2L354.7,928.9L355.2,928.4L355.7,927.7L356.2,927.8L356.7,928.1L357.2,928.0L357.7,927.5L358.2,927.0L358.7,926.7L359.2,926.0L359.7,925.8L360.2,925.6L360.7,924.7L361.2,923.5L361.7,922.6L362.2,921.9L362.7,921.1L363.2,920.4L363.7,919.1L364.2,917.6L364.7,917.0L365.2,916.2L365.7,915.5L366.2,914.6L366.7,913.8L367.2,913.2L367.7,913.0L368.2,913.0L368.7,912.6L369.2,912.9L369.7,913.1L370.2,913.6L370.7,914.2L371.2,914.7L371.7,915.2L372.2,915.7L372.7,916.5L373.2,917.3L373.7,917.8L374.2,918.5L374.7,918.7L375.2,919.0L375.7,919.1L376.2,919.4L376.7,919.5L377.2,919.0L377.7,919.1L378.2,919.0L378.7,918.8L379.2,918.7L379.7,919.2L380.2,919.3L380.7,919.1L381.2,919.5L381.7,919.4L382.2,919.2L382.7,918.8L383.2,918.7L383.7,918.0L384.2,917.5L384.7,917.0L385.2,916.3L385.7,915.2L386.2,913.9L386.7,912.8L387.2,911.3L387.7,909.4L388.2,907.6L388.7,905.5L389.2,903.0L389.7,901.0L390.2,898.6L390.7,896.5L391.2,894.0L391.7,892.2L392.2,890.2L392.7,888.7L393.2,888.0L393.7,887.3L394.2,887.4L394.7,887.6L395.2,888.6L395.7,889.7L396.2,891.3L396.7,893.4L397.2,895.2L397.7,897.4L398.2,899.8L398.7,902.3L399.2,904.6L399.7,907.5L400.2,910.1L400.7,912.5L401.2,914.7L401.7,916.7L402.2,918.3L402.7,920.0L403.2,921.2L403.7,922.3L404.2,923.6L404.7,924.9L405.2,926.2L405.7,927.1L406.2,928.3L406.7,929.0L407.2,930.2L407.7,930.8L408.2,931.3L408.7,931.8L409.2,932.0L409.7,932.6L410.2,932.6L410.7,932.6L411.2,932.5L411.7,932.7L412.2,932.2L412.7,931.6L413.2,930.9L413.7,930.3L414.2,930.2L414.7,930.0L415.2,929.5L415.7,928.8L416.2,928.7L416.7,928.5L417.2,928.6L417.7,928.3L418.2,927.5L418.7,927.3L419.2,926.7L419.7,926.1L420.2,925.2L420.7,923.6L421.2,922.2L421.7,920.8L422.2,919.7L422.7,918.2L423.2,917.1L423.7,915.8L424.2,915.1L424.7,915.3L425.2,915.7L425.7,916.3L426.2,917.1L426.7,918.3L427.2,919.7L427.7,921.4L428.2,922.5L428.7,924.0L429.2,924.6L429.7,925.7L430.2,927.0L430.7,927.6L431.2,928.1L431.7,928.4L432.2,929.2L432.7,929.0L433.2,929.7L433.7,929.9L434.2,929.5L434.7,929.7L435.2,929.4L435.7,929.5L436.2,929.2L436.7,929.2L437.2,929.1L437.7,929.1L438.2,929.0L438.7,928.6L439.2,928.5L439.7,928.2L440.2,927.9L440.7,927.3L441.2,926.5L441.7,925.2L442.2,923.7L442.7,922.1L443.2,919.7L443.7,917.1L444.2,914.2L444.7,910.7L445.2,907.3L445.7,904.0L446.2,901.7L446.7,899.9L447.2,899.8L447.7,900.9L448.2,903.0L448.7,906.4L449.2,909.7L449.7,913.5L450.2,916.7L450.7,919.8L451.2,922.2L451.7,924.1L452.2,925.7L452.7,927.1L453.2,928.1L453.7,928.7L454.2,929.5L454.7,929.8L455.2,929.9L455.7,929.9L456.2,929.5L456.7,928.8L457.2,928.5L457.7,927.9L458.2,926.7L458.7,925.8L459.2,924.9L459.7,923.6L460.2,922.5L460.7,921.3L461.2,919.5L461.7,918.1L462.2,916.4L462.7,914.6L463.2,913.3L463.7,912.4L464.2,911.1L464.7,910.3L465.2,910.0L465.7,910.2L466.2,911.0L466.7,912.1L467.2,912.9L467.7,913.9L468.2,915.3L468.7,916.0L469.2,916.4L469.7,917.0L470.2,917.3L470.7,917.8L471.2,918.1L471.7,918.3L472.2,918.2L472.7,918.4L473.2,918.9L473.7,918.7L474.2,918.9L474.7,918.8L475.2,918.6L475.7,918.8L476.2,918.8L476.7,919.2L477.2,919.1L477.7,919.5L478.2,919.7L478.7,920.2L479.2,920.6L479.7,921.0L480.2,921.6L480.7,922.4L481.2,923.6L481.7,924.5L482.2,925.7L482.7,926.6L483.2,927.9L483.7,928.7L484.2,929.5L484.7,930.3L485.2,930.7L485.7,931.1L486.2,931.2L486.7,931.1L487.2,930.7L487.7,930.3L488.2,930.3L488.7,929.6L489.2,928.5L489.7,927.4L490.2,926.3L490.7,925.0L491.2,923.7L491.7,922.5L492.2,920.8L492.7,919.2L493.2,918.2L493.7,917.4L494.2,916.7L494.7,916.2L495.2,915.9L495.7,915.7L496.2,916.1L496.7,916.7L497.2,917.7L497.7,918.4L498.2,919.2L498.7,920.5L499.2,921.8L499.7,922.9L500.2,923.8L500.7,925.0L501.2,925.8L501.7,926.7L502.2,927.5L502.7,928.0L503.2,928.6L503.7,929.2L504.2,929.4L504.7,929.2L505.2,929.4L505.7,929.9L506.2,930.0L506.7,930.3L507.2,930.0L507.7,929.8L508.2,930.2L508.7,930.6L509.2,930.7L509.7,930.4L510.2,930.4L510.7,930.2L511.2,930.4L511.7,930.6L512.2,930.4L512.7,930.3L513.2,930.4L513.7,930.7L514.2,930.5L514.7,930.5L515.2,930.2L515.7,930.5L516.2,930.4L516.7,930.3L517.2,930.2L517.7,930.4L518.2,930.5L518.7,930.8L519.2,931.1L519.7,931.1L520.2,931.4L520.7,931.8L521.2,931.7L521.7,931.8L522.2,931.6L522.7,931.7L523.2,931.4L523.7,931.0L524.2,931.1L524.7,930.7L525.2,930.7L525.7,930.3L526.2,930.7L526.7,930.6L527.2,930.6L527.7,930.9L528.2,931.0L528.7,931.0L529.2,931.0L529.7,931.5L530.2,931.4L530.7,931.4L531.2,931.5L531.7,931.5L532.2,931.2L532.7,930.8L533.2,930.6L533.7,930.1L534.2,930.3L534.7,930.3L535.2,930.2L535.7,929.9L536.2,930.3L536.7,930.6L537.2,930.6L537.7,930.8L538.2,930.5L538.7,930.5L539.2,930.7L539.7,931.1L540.2,931.2L540.7,931.1L541.2,931.6L541.7,931.6L542.2,931.8L542.7,931.7L543.2,931.7L543.7,931.5L544.2,931.3L544.7,931.7L545.2,931.3L545.7,931.1L546.2,930.9L546.7,931.1L547.2,931.2L547.7,931.1L548.2,931.0L548.7,930.8L549.2,930.5L549.7,930.5L550.2,930.7L550.7,930.5L551.2,930.4L551.7,930.3L552.2,930.5L552.7,930.7L553.2,930.8L553.7,931.1L554.2,930.6L554.7,930.9L555.2,930.9L555.7,930.8L556.2,930.6L556.7,930.2L557.2,930.1L557.7,929.7L558.2,929.4L558.7,928.5L559.2,927.9L559.7,927.3L560.2,926.1L560.7,925.3L561.2,924.0L561.7,922.6L562.2,921.1L562.7,919.8L563.2,918.3L563.7,916.8L564.2,915.7L564.7,913.9L565.2,912.9L565.7,912.4L566.2,912.5L566.7,912.9L567.2,913.2L567.7,914.9L568.2,916.0L568.7,917.8L569.2,919.5L569.7,921.3L570.2,922.7L570.7,923.5L571.2,924.9L571.7,925.6L572.2,926.5L572.7,927.0L573.2,927.1L573.7,927.7L574.2,928.1L574.7,928.8L575.2,929.2L575.7,929.2L576.2,929.3L576.7,929.5L577.2,929.9L577.7,929.7L578.2,929.8L578.7,929.8L579.2,929.6L579.7,929.4L580.2,929.2L580.7,928.8L581.2,928.5L581.7,927.9L582.2,927.3L582.7,926.8L583.2,926.1L583.7,925.5L584.2,925.1L584.7,924.7L585.2,924.1L585.7,923.7L586.2,923.1L586.7,922.9L587.2,923.0L587.7,923.4L588.2,923.8L588.7,924.3L589.2,924.8L589.7,925.8L590.2,926.9L590.7,927.6L591.2,928.4L591.7,928.7L592.2,929.1L592.7,929.6L593.2,929.9L593.7,930.0L594.2,929.8L594.7,929.6L595.2,929.4L595.7,929.5L596.2,929.8L596.7,929.9L597.2,929.8L597.7,929.5L598.2,929.7L598.7,930.0L599.2,930.0L599.7,930.2L600.2,929.9L600.7,929.8L601.2,929.8L601.7,930.0L602.2,929.7L602.7,929.2L603.2,929.1L603.7,928.5L604.2,928.3L604.7,927.5L605.2,926.9L605.7,926.5L606.2,926.2L606.7,926.3L607.2,926.2L607.7,925.8L608.2,925.4L608.7,925.3L609.2,925.6L609.7,925.2L610.2,925.2L610.7,925.3L611.2,925.2L611.7,925.9L612.2,926.5L612.7,927.0L613.2,927.6L613.7,928.4L614.2,928.9L614.7,929.2L615.2,929.6L615.7,930.1L616.2,930.1L616.7,930.2L617.2,930.3L617.7,930.2L618.2,930.3L618.7,930.6L619.2,930.7L619.7,930.6L620.2,930.9L620.7,931.2L621.2,930.9L621.7,930.9L622.2,931.0L622.7,931.0L623.2,930.6L623.7,930.4L624.2,930.3L624.7,930.0L625.2,930.4L625.7,930.6L626.2,930.5L626.7,930.2L627.2,930.7L627.7,931.2L628.2,931.1L628.7,931.4L629.2,931.5L629.7,931.6L630.2,931.5L630.7,931.5L631.2,931.3L631.7,931.1L632.2,931.4L632.7,931.4L633.2,931.3L633.7,931.4L634.2,931.3L634.7,931.2L635.2,931.4L635.7,931.3L636.2,931.1L636.7,930.6L637.2,930.3L637.7,929.8L638.2,929.8L638.7,929.7L639.2,929.5L639.7,929.4L640.2,929.2L640.7,929.5L641.2,929.3L641.7,929.0L642.2,929.0L642.7,929.2L643.2,929.4L643.7,929.3L644.2,929.3L644.7,929.1L645.2,929.0L645.7,929.4L646.2,929.4L646.7,929.2L647.2,929.4L647.7,929.2L648.2,929.2L648.7,929.6L649.2,929.8L649.7,929.9L650.2,929.7L650.7,929.8L651.2,929.9L651.7,930.3L652.2,930.6L652.7,930.4L653.2,930.7L653.7,931.0L654.2,931.1L654.7,931.2L655.2,931.0L655.7,931.2L656.2,931.1L656.7,931.3L657.2,931.5L657.7,931.4L658.2,931.3L658.7,931.6L659.2,931.6L659.7,931.4L660.2,931.5L660.7,931.4L661.2,931.1L661.7,931.2L662.2,931.4L662.7,931.2L663.2,931.2" fill="none" stroke="#111111" stroke-width="3.1" stroke-linejoin="round"/><rect x="71.2" y="37.2" width="593.5999999999999" height="930.8" fill="none" stroke="#222" stroke-width="3"/><path d="M94.0,968.0V961.0M116.9,968.0V956.0M139.7,968.0V961.0M162.5,968.0V956.0M185.4,968.0V961.0M208.2,968.0V956.0M231.0,968.0V961.0M253.8,968.0V956.0M276.7,968.0V961.0M299.5,968.0V956.0M322.3,968.0V961.0M345.2,968.0V956.0M368.0,968.0V961.0M390.8,968.0V956.0M413.7,968.0V961.0M436.5,968.0V956.0M459.3,968.0V961.0M482.2,968.0V956.0M505.0,968.0V961.0M527.8,968.0V956.0M550.6,968.0V961.0M573.5,968.0V956.0M596.3,968.0V961.0M619.1,968.0V956.0M642.0,968.0V961.0" stroke="#222" stroke-width="2.6" fill="none"/><line x1="938" y1="346" x2="1234" y2="170" stroke="#0505ff" stroke-width="2.4" stroke-dasharray="6.5,6"/><line x1="972" y1="662" x2="1214" y2="494.5" stroke="#00ee00" stroke-width="2.4" stroke-dasharray="6.5,6"/><line x1="1009.5" y1="977.5" x2="1206" y2="841.6" stroke="#111111" stroke-width="2.4" stroke-dasharray="6.5,6"/><path d="M796.5,344.5L797.5,344.5L798.5,344.5L799.5,344.5L800.5,344.5L801.5,344.5L802.5,344.5L803.5,344.5L804.5,344.5L805.5,344.5L806.5,344.5L807.5,344.5L808.5,344.5L809.5,344.5L810.5,344.5L811.5,344.5L812.5,344.5L813.5,344.5L814.5,344.5L815.5,344.5L816.5,344.5L817.5,344.5L818.5,344.5L819.5,344.5L820.5,344.5L821.5,344.5L822.5,344.5L823.5,344.5L824.5,344.5L825.5,344.5L826.5,344.5L827.5,344.5L828.5,344.5L829.5,344.5L830.5,344.5L831.5,344.5L832.5,344.5L833.5,344.5L834.5,344.5L835.5,344.5L836.5,344.5L837.5,344.5L838.5,344.5L839.5,344.5L840.5,344.5L841.5,344.5L842.5,344.5L843.5,344.5L844.5,344.5L845.5,344.5L846.5,344.5L847.5,344.5L848.5,344.5L849.5,344.5L850.5,344.5L851.5,344.5L852.5,344.5L853.5,344.5L854.5,344.5L855.5,344.5L856.5,344.5L857.5,344.5L858.5,344.5L859.5,344.5L860.5,344.5L861.5,344.5L862.5,344.5L863.5,344.5L864.5,344.5L865.5,344.5L866.5,344.5L867.5,344.5L868.5,344.5L869.5,344.5L870.5,344.5L871.5,344.5L872.5,344.5L873.5,344.5L874.5,344.5L875.5,344.5L876.5,344.5L877.5,344.5L878.5,344.5L879.5,344.5L880.5,344.5L881.5,344.5L882.5,344.5L883.5,344.5L884.5,344.5L885.5,344.5L886.5,344.5L887.5,344.5L888.5,344.5L889.5,344.5L890.5,344.5L891.5,344.5L892.5,344.5L893.5,344.5L894.5,344.4L895.5,344.4L896.5,344.4L897.5,344.4L898.5,344.3L899.5,344.3L900.5,344.3L901.5,344.2L902.5,344.2L903.5,344.2L904.5,344.1L905.5,344.0L906.5,344.0L907.5,343.9L908.5,343.8L909.5,343.6L910.5,343.5L911.5,343.3L912.5,343.2L913.5,343.0L914.5,342.8L915.5,342.6L916.5,342.4L917.5,342.3L918.5,342.1L919.5,341.9L920.5,341.7L921.5,341.5L922.5,341.4L923.5,341.2L924.5,341.0L925.5,340.8L926.5,340.6L927.5,340.4L928.5,340.3L929.5,340.1L930.5,339.9L931.5,339.7L932.5,339.5L933.5,339.2L934.5,339.0L935.5,338.8L936.5,338.6L937.5,338.3L938.5,338.1L939.5,337.8L940.5,337.6L941.5,337.3L942.5,337.0L943.5,336.7L944.5,336.4L945.5,336.1L946.5,335.8L947.5,335.4L948.5,335.1L949.5,334.7L950.5,334.4L951.5,334.0L952.5,333.7L953.5,333.3L954.5,333.0L955.5,332.6L956.5,332.2L957.5,331.9L958.5,331.5L959.5,331.1L960.5,330.8L961.5,330.4L962.5,330.1L963.5,329.7L964.5,329.3L965.5,328.9L966.5,328.5L967.5,328.2L968.5,327.8L969.5,327.3L970.5,326.9L971.5,326.5L972.5,326.1L973.5,325.6L974.5,325.2L975.5,324.7L976.5,324.2L977.5,323.7L978.5,323.2L979.5,322.6L980.5,322.0L981.5,321.5L982.5,320.8L983.5,320.2L984.5,319.6L985.5,318.9L986.5,318.3L987.5,317.6L988.5,316.9L989.5,316.3L990.5,315.6L991.5,314.9L992.5,314.3L993.5,313.6L994.5,313.0L995.5,312.3L996.5,311.7L997.5,311.0L998.5,310.4L999.5,309.7L1000.5,309.1L1001.5,308.5L1002.5,307.8L1003.5,307.2L1004.5,306.5L1005.5,305.9L1006.5,305.2L1007.5,304.6L1008.5,304.0L1009.5,303.3L1010.5,302.7L1011.5,302.1L1012.5,301.4L1013.5,300.8L1014.5,300.2L1015.5,299.6L1016.5,299.0L1017.5,298.4L1018.5,297.8L1019.5,297.2L1020.5,296.6L1021.5,296.0L1022.5,295.4L1023.5,294.8L1024.5,294.2L1025.5,293.6L1026.5,293.0L1027.5,292.4L1028.5,291.8L1029.5,291.2L1030.5,290.6L1031.5,290.0L1032.5,289.4L1033.5,288.8L1034.5,288.2L1035.5,287.6L1036.5,286.9L1037.5,286.3L1038.5,285.7L1039.5,285.1L1040.5,284.4L1041.5,283.8L1042.5,283.2L1043.5,282.5L1044.5,281.9L1045.5,281.2L1046.5,280.6L1047.5,280.0L1048.5,279.3L1049.5,278.6L1050.5,278.0L1051.5,277.3L1052.5,276.6L1053.5,275.9L1054.5,275.2L1055.5,274.5L1056.5,273.8L1057.5,273.1L1058.5,272.3L1059.5,271.6L1060.5,270.8L1061.5,270.1L1062.5,269.4L1063.5,268.7L1064.5,267.9L1065.5,267.3L1066.5,266.6L1067.5,265.9L1068.5,265.3L1069.5,264.7L1070.5,264.1L1071.5,263.6L1072.5,263.1L1073.5,262.6L1074.5,262.1L1075.5,261.7L1076.5,261.2L1077.5,260.8L1078.5,260.4L1079.5,260.0L1080.5,259.5L1081.5,259.1L1082.5,258.6L1083.5,258.2L1084.5,257.7L1085.5,257.2L1086.5,256.7L1087.5,256.1L1088.5,255.6L1089.5,255.1L1090.5,254.6L1091.5,254.0L1092.5,253.5L1093.5,253.0L1094.5,252.5L1095.5,252.0L1096.5,251.5L1097.5,251.0L1098.5,250.5L1099.5,250.1L1100.5,249.6L1101.5,249.1L1102.5,248.7L1103.5,248.2L1104.5,247.8L1105.5,247.3L1106.5,246.9L1107.5,246.4L1108.5,246.0L1109.5,245.5L1110.5,245.0L1111.5,244.5L1112.5,244.1L1113.5,243.6L1114.5,243.1L1115.5,242.5L1116.5,242.0L1117.5,241.5L1118.5,240.9L1119.5,240.3L1120.5,239.7L1121.5,239.2L1122.5,238.6L1123.5,237.9L1124.5,237.3L1125.5,236.7L1126.5,236.1L1127.5,235.5L1128.5,234.8L1129.5,234.2L1130.5,233.6L1131.5,233.0L1132.5,232.3L1133.5,231.7L1134.5,231.1L1135.5,230.5L1136.5,229.9L1137.5,229.4L1138.5,228.8L1139.5,228.2L1140.5,227.7L1141.5,227.1L1142.5,226.6L1143.5,226.0L1144.5,225.5L1145.5,224.9L1146.5,224.4L1147.5,223.9L1148.5,223.3L1149.5,222.8L1150.5,222.2L1151.5,221.7L1152.5,221.2L1153.5,220.6L1154.5,220.1L1155.5,219.5L1156.5,219.0L1157.5,218.4L1158.5,217.9L1159.5,217.3L1160.5,216.7L1161.5,216.2L1162.5,215.6L1163.5,215.0L1164.5,214.5L1165.5,213.9L1166.5,213.3L1167.5,212.7L1168.5,212.2L1169.5,211.6L1170.5,211.0L1171.5,210.4L1172.5,209.8L1173.5,209.3L1174.5,208.7L1175.5,208.1L1176.5,207.5L1177.5,206.9L1178.5,206.3L1179.5,205.7L1180.5,205.2L1181.5,204.6L1182.5,204.0L1183.5,203.4L1184.5,202.8L1185.5,202.2L1186.5,201.6L1187.5,201.0L1188.5,200.4L1189.5,199.8L1190.5,199.2L1191.5,198.6L1192.5,198.0L1193.5,197.3L1194.5,196.7L1195.5,196.1L1196.5,195.5L1197.5,194.9L1198.5,194.3L1199.5,193.7L1200.5,193.1L1201.5,192.5L1202.5,191.8L1203.5,191.2L1204.5,190.6L1205.5,190.0L1206.5,189.4L1207.5,188.7L1208.5,188.1L1209.5,187.5L1210.5,186.9L1211.5,186.2L1212.5,185.6L1213.5,185.0L1214.5,184.4L1215.5,183.7L1216.5,183.1L1217.5,182.5L1218.5,181.8L1219.5,181.2L1220.5,180.6L1221.5,180.0L1222.5,179.3L1223.5,178.7L1224.5,178.1L1225.5,177.4L1226.5,176.8L1227.5,176.2L1228.5,175.5L1229.5,174.9L1230.5,174.3L1231.5,173.6L1232.5,173.0L1233.5,172.4L1234.5,171.7L1235.5,171.1L1236.5,170.5L1237.5,169.8L1238.5,169.2L1239.5,168.6L1240.5,168.0L1241.5,167.4L1242.5,166.7L1243.5,166.1L1244.5,165.5L1245.5,164.9L1246.5,164.3L1247.5,163.7L1248.5,163.1L1249.5,162.5L1250.5,161.9L1251.5,161.3L1252.5,160.7L1253.5,160.1L1254.5,159.5L1255.5,158.9L1256.5,158.3L1257.5,157.7L1258.5,157.1L1259.5,156.5L1260.5,155.9L1261.5,155.3L1262.5,154.8L1263.5,154.2L1264.5,153.6L1265.5,153.0L1266.5,152.4L1267.5,151.9L1268.5,151.3L1269.5,150.7L1270.5,150.1L1271.5,149.6L1272.5,149.0L1273.5,148.4L1274.5,147.8L1275.5,147.3L1276.5,146.7L1277.5,146.1L1278.5,145.6L1279.5,145.0L1280.5,144.4L1281.5,143.9L1282.5,143.3L1283.5,142.7L1284.5,142.1L1285.5,141.6L1286.5,141.0L1287.5,140.5L1288.5,139.9L1289.5,139.3L1290.5,138.8L1291.5,138.2L1292.5,137.6L1293.5,137.1L1294.5,136.5L1295.5,136.0L1296.5,135.4L1297.5,134.8L1298.5,134.3L1299.5,133.7L1300.5,133.2L1301.5,132.6L1302.5,132.1L1303.5,131.5L1304.5,131.0L1305.5,130.4L1306.5,129.9L1307.5,129.3L1308.5,128.8L1309.5,128.3L1310.5,127.7L1311.5,127.2L1312.5,126.7L1313.5,126.1L1314.5,125.6L1315.5,125.1L1316.5,124.5L1317.5,124.0L1318.5,123.5L1319.5,123.0L1320.5,122.5L1321.5,121.9L1322.5,121.4L1323.5,120.9L1324.5,120.4L1325.5,119.9L1326.5,119.4L1327.5,118.9L1328.5,118.4L1329.5,117.9L1330.5,117.4L1331.5,117.0L1332.5,116.5L1333.5,116.0L1334.5,115.5L1335.5,115.1L1336.5,114.6L1337.5,114.1L1338.5,113.7L1339.5,113.2L1340.5,112.7L1341.5,112.3L1342.5,111.8L1343.5,111.3L1344.5,110.9L1345.5,110.4L1346.5,110.0L1347.5,109.5L1348.5,109.0L1349.5,108.6L1350.5,108.1L1351.5,107.6L1352.5,107.1L1353.5,106.7L1354.5,106.2L1355.5,105.7L1356.5,105.2L1357.5,104.7L1358.5,104.2L1359.5,103.7L1360.5,103.2L1361.5,102.7L1362.5,102.2L1363.5,101.7L1364.5,101.2L1365.5,100.7L1366.5,100.2L1367.5,99.7L1368.5,99.2L1369.5,98.7L1370.5,98.2L1371.5,97.6L1372.5,97.1L1373.5,96.6L1374.5,96.1L1375.5,95.6L1376.5,95.0L1377.5,94.5L1378.5,94.0L1379.5,93.5L1380.5,92.9L1381.5,92.4L1382.5,91.9L1383.5,91.3L1384.5,90.8L1385.5,90.3L1386.5,89.7L1387.5,89.2L1388.5,88.6L1389.5,88.1L1390.5,87.5L1391.5,87.0L1392.5,86.5L1393.5,86.1L1394.5,85.8" fill="none" stroke="#0505ff" stroke-width="2.7"/><path d="M796.5,660.2L797.5,660.2L798.5,660.2L799.5,660.2L800.5,660.1L801.5,660.1L802.5,660.1L803.5,660.1L804.5,660.1L805.5,660.1L806.5,660.1L807.5,660.1L808.5,660.0L809.5,660.0L810.5,660.0L811.5,660.0L812.5,660.0L813.5,660.0L814.5,659.9L815.5,659.9L816.5,659.9L817.5,659.9L818.5,659.9L819.5,659.8L820.5,659.8L821.5,659.8L822.5,659.8L823.5,659.7L824.5,659.7L825.5,659.7L826.5,659.7L827.5,659.6L828.5,659.6L829.5,659.6L830.5,659.6L831.5,659.5L832.5,659.5L833.5,659.5L834.5,659.5L835.5,659.4L836.5,659.4L837.5,659.4L838.5,659.3L839.5,659.3L840.5,659.3L841.5,659.2L842.5,659.2L843.5,659.2L844.5,659.1L845.5,659.1L846.5,659.0L847.5,659.0L848.5,659.0L849.5,658.9L850.5,658.9L851.5,658.8L852.5,658.8L853.5,658.8L854.5,658.7L855.5,658.7L856.5,658.6L857.5,658.6L858.5,658.5L859.5,658.5L860.5,658.4L861.5,658.4L862.5,658.3L863.5,658.3L864.5,658.2L865.5,658.1L866.5,658.1L867.5,658.0L868.5,658.0L869.5,657.9L870.5,657.9L871.5,657.8L872.5,657.7L873.5,657.7L874.5,657.6L875.5,657.6L876.5,657.5L877.5,657.4L878.5,657.4L879.5,657.3L880.5,657.2L881.5,657.2L882.5,657.1L883.5,657.0L884.5,657.0L885.5,656.9L886.5,656.8L887.5,656.7L888.5,656.7L889.5,656.6L890.5,656.5L891.5,656.4L892.5,656.4L893.5,656.3L894.5,656.2L895.5,656.1L896.5,656.0L897.5,656.0L898.5,655.9L899.5,655.8L900.5,655.7L901.5,655.6L902.5,655.5L903.5,655.4L904.5,655.3L905.5,655.3L906.5,655.2L907.5,655.1L908.5,655.0L909.5,654.9L910.5,654.8L911.5,654.7L912.5,654.6L913.5,654.5L914.5,654.3L915.5,654.2L916.5,654.1L917.5,654.0L918.5,653.9L919.5,653.8L920.5,653.6L921.5,653.5L922.5,653.4L923.5,653.2L924.5,653.1L925.5,653.0L926.5,652.8L927.5,652.7L928.5,652.5L929.5,652.4L930.5,652.2L931.5,652.1L932.5,651.9L933.5,651.7L934.5,651.6L935.5,651.4L936.5,651.2L937.5,651.1L938.5,650.9L939.5,650.7L940.5,650.5L941.5,650.4L942.5,650.2L943.5,650.0L944.5,649.8L945.5,649.6L946.5,649.4L947.5,649.2L948.5,649.0L949.5,648.8L950.5,648.6L951.5,648.4L952.5,648.2L953.5,648.0L954.5,647.8L955.5,647.5L956.5,647.3L957.5,647.1L958.5,646.8L959.5,646.6L960.5,646.4L961.5,646.1L962.5,645.9L963.5,645.6L964.5,645.4L965.5,645.1L966.5,644.8L967.5,644.6L968.5,644.3L969.5,644.0L970.5,643.7L971.5,643.4L972.5,643.1L973.5,642.8L974.5,642.5L975.5,642.2L976.5,641.9L977.5,641.5L978.5,641.2L979.5,640.9L980.5,640.5L981.5,640.2L982.5,639.8L983.5,639.4L984.5,639.1L985.5,638.7L986.5,638.3L987.5,637.9L988.5,637.5L989.5,637.1L990.5,636.7L991.5,636.2L992.5,635.8L993.5,635.3L994.5,634.9L995.5,634.4L996.5,633.9L997.5,633.4L998.5,632.9L999.5,632.4L1000.5,631.8L1001.5,631.3L1002.5,630.7L1003.5,630.2L1004.5,629.6L1005.5,629.0L1006.5,628.4L1007.5,627.8L1008.5,627.2L1009.5,626.6L1010.5,625.9L1011.5,625.3L1012.5,624.7L1013.5,624.0L1014.5,623.4L1015.5,622.7L1016.5,622.1L1017.5,621.4L1018.5,620.8L1019.5,620.1L1020.5,619.5L1021.5,618.9L1022.5,618.2L1023.5,617.6L1024.5,617.0L1025.5,616.4L1026.5,615.8L1027.5,615.2L1028.5,614.6L1029.5,614.1L1030.5,613.5L1031.5,612.9L1032.5,612.4L1033.5,611.8L1034.5,611.3L1035.5,610.8L1036.5,610.2L1037.5,609.7L1038.5,609.2L1039.5,608.7L1040.5,608.2L1041.5,607.7L1042.5,607.1L1043.5,606.6L1044.5,606.1L1045.5,605.6L1046.5,605.1L1047.5,604.5L1048.5,604.0L1049.5,603.5L1050.5,602.9L1051.5,602.4L1052.5,601.9L1053.5,601.3L1054.5,600.7L1055.5,600.2L1056.5,599.6L1057.5,599.0L1058.5,598.4L1059.5,597.9L1060.5,597.3L1061.5,596.7L1062.5,596.1L1063.5,595.5L1064.5,594.9L1065.5,594.2L1066.5,593.6L1067.5,593.0L1068.5,592.4L1069.5,591.8L1070.5,591.1L1071.5,590.5L1072.5,589.9L1073.5,589.2L1074.5,588.6L1075.5,587.9L1076.5,587.3L1077.5,586.7L1078.5,586.0L1079.5,585.4L1080.5,584.7L1081.5,584.1L1082.5,583.4L1083.5,582.8L1084.5,582.1L1085.5,581.5L1086.5,580.8L1087.5,580.2L1088.5,579.5L1089.5,578.9L1090.5,578.2L1091.5,577.6L1092.5,576.9L1093.5,576.3L1094.5,575.6L1095.5,575.0L1096.5,574.3L1097.5,573.7L1098.5,573.0L1099.5,572.4L1100.5,571.7L1101.5,571.1L1102.5,570.4L1103.5,569.8L1104.5,569.1L1105.5,568.4L1106.5,567.8L1107.5,567.1L1108.5,566.5L1109.5,565.8L1110.5,565.1L1111.5,564.5L1112.5,563.8L1113.5,563.1L1114.5,562.4L1115.5,561.8L1116.5,561.1L1117.5,560.4L1118.5,559.7L1119.5,559.0L1120.5,558.3L1121.5,557.6L1122.5,556.9L1123.5,556.2L1124.5,555.5L1125.5,554.8L1126.5,554.0L1127.5,553.3L1128.5,552.6L1129.5,551.8L1130.5,551.1L1131.5,550.3L1132.5,549.6L1133.5,548.8L1134.5,548.1L1135.5,547.3L1136.5,546.5L1137.5,545.8L1138.5,545.0L1139.5,544.3L1140.5,543.5L1141.5,542.8L1142.5,542.0L1143.5,541.3L1144.5,540.5L1145.5,539.8L1146.5,539.1L1147.5,538.3L1148.5,537.6L1149.5,536.9L1150.5,536.2L1151.5,535.6L1152.5,534.9L1153.5,534.3L1154.5,533.7L1155.5,533.1L1156.5,532.5L1157.5,531.9L1158.5,531.3L1159.5,530.8L1160.5,530.2L1161.5,529.6L1162.5,528.9L1163.5,528.3L1164.5,527.5L1165.5,526.7L1166.5,525.8L1167.5,524.9L1168.5,523.9L1169.5,522.9L1170.5,521.9L1171.5,520.9L1172.5,519.9L1173.5,518.9L1174.5,518.0L1175.5,517.1L1176.5,516.2L1177.5,515.4L1178.5,514.5L1179.5,513.7L1180.5,512.8L1181.5,512.0L1182.5,511.2L1183.5,510.5L1184.5,509.8L1185.5,509.1L1186.5,508.5L1187.5,507.9L1188.5,507.4L1189.5,506.9L1190.5,506.5L1191.5,506.0L1192.5,505.6L1193.5,505.1L1194.5,504.7L1195.5,504.2L1196.5,503.6L1197.5,502.9L1198.5,502.2L1199.5,501.3L1200.5,500.3L1201.5,499.2L1202.5,498.1L1203.5,497.0L1204.5,495.9L1205.5,494.9L1206.5,494.0L1207.5,493.2L1208.5,492.4L1209.5,491.8L1210.5,491.1L1211.5,490.5L1212.5,489.8L1213.5,489.1L1214.5,488.3L1215.5,487.4L1216.5,486.4L1217.5,485.2L1218.5,484.0L1219.5,482.8L1220.5,481.5L1221.5,480.4L1222.5,479.3L1223.5,478.4L1224.5,477.5L1225.5,476.7L1226.5,476.0L1227.5,475.3L1228.5,474.6L1229.5,473.8L1230.5,473.1L1231.5,472.3L1232.5,471.5L1233.5,470.7L1234.5,469.8L1235.5,468.8L1236.5,467.9L1237.5,466.9L1238.5,466.0L1239.5,465.0L1240.5,464.1L1241.5,463.3L1242.5,462.4L1243.5,461.7L1244.5,461.0L1245.5,460.3L1246.5,459.8L1247.5,459.2L1248.5,458.7L1249.5,458.2L1250.5,457.7L1251.5,457.1L1252.5,456.5L1253.5,455.9L1254.5,455.1L1255.5,454.3L1256.5,453.2L1257.5,452.0L1258.5,450.7L1259.5,449.4L1260.5,448.2L1261.5,447.1L1262.5,446.1L1263.5,445.2L1264.5,444.3L1265.5,443.5L1266.5,442.6L1267.5,441.7L1268.5,440.8L1269.5,439.9L1270.5,438.9L1271.5,437.8L1272.5,436.7L1273.5,435.5L1274.5,434.4L1275.5,433.2L1276.5,432.0L1277.5,430.8L1278.5,429.6L1279.5,428.5L1280.5,427.6L1281.5,426.7L1282.5,426.0L1283.5,425.3L1284.5,424.7L1285.5,424.1L1286.5,423.6L1287.5,423.0L1288.5,422.5L1289.5,422.0L1290.5,421.5L1291.5,420.9L1292.5,420.4L1293.5,420.0L1294.5,419.5L1295.5,419.0L1296.5,418.6L1297.5,418.1L1298.5,417.5L1299.5,416.9L1300.5,416.2L1301.5,415.4L1302.5,414.5L1303.5,413.6L1304.5,412.7L1305.5,411.8L1306.5,411.1L1307.5,410.4L1308.5,409.7L1309.5,409.1L1310.5,408.6L1311.5,408.1L1312.5,407.6L1313.5,407.3L1314.5,407.0L1315.5,406.7L1316.5,406.5L1317.5,406.3L1318.5,406.0L1319.5,405.7L1320.5,405.3L1321.5,404.8L1322.5,404.3L1323.5,403.7L1324.5,403.2L1325.5,402.6L1326.5,402.1L1327.5,401.6L1328.5,401.1L1329.5,400.7L1330.5,400.3L1331.5,399.8L1332.5,399.4L1333.5,398.9L1334.5,398.5L1335.5,398.0L1336.5,397.4L1337.5,396.8L1338.5,396.0L1339.5,395.3L1340.5,394.5L1341.5,393.9L1342.5,393.4L1343.5,393.1L1344.5,392.8L1345.5,392.6L1346.5,392.4L1347.5,392.3L1351.5,392.8L1355.0,396.3" fill="none" stroke="#00ee00" stroke-width="3.2" stroke-linejoin="round" stroke-linecap="round"/><path d="M796.5,975.6H862" stroke="#999" stroke-width="1.6"/><path d="M796.5,973.5L797.5,973.5L798.5,973.5L799.5,973.5L800.5,973.5L801.5,973.5L802.5,973.5L803.5,973.5L804.5,973.5L805.5,973.5L806.5,973.5L807.5,973.5L808.5,973.5L809.5,973.4L810.5,973.4L811.5,973.4L812.5,973.4L813.5,973.4L814.5,973.4L815.5,973.4L816.5,973.4L817.5,973.4L818.5,973.4L819.5,973.4L820.5,973.4L821.5,973.4L822.5,973.4L823.5,973.4L824.5,973.3L825.5,973.3L826.5,973.3L827.5,973.3L828.5,973.3L829.5,973.3L830.5,973.3L831.5,973.3L832.5,973.3L833.5,973.3L834.5,973.3L835.5,973.2L836.5,973.2L837.5,973.2L838.5,973.2L839.5,973.2L840.5,973.2L841.5,973.2L842.5,973.2L843.5,973.1L844.5,973.1L845.5,973.1L846.5,973.1L847.5,973.1L848.5,973.1L849.5,973.1L850.5,973.0L851.5,973.0L852.5,973.0L853.5,973.0L854.5,973.0L855.5,973.0L856.5,972.9L857.5,972.9L858.5,972.9L859.5,972.9L860.5,972.9L861.5,972.9L862.5,972.8L863.5,972.8L864.5,972.8L865.5,972.8L866.5,972.8L867.5,972.7L868.5,972.7L869.5,972.7L870.5,972.7L871.5,972.7L872.5,972.6L873.5,972.6L874.5,972.6L875.5,972.6L876.5,972.6L877.5,972.6L878.5,972.5L879.5,972.5L880.5,972.5L881.5,972.5L882.5,972.5L883.5,972.4L884.5,972.4L885.5,972.4L886.5,972.4L887.5,972.4L888.5,972.4L889.5,972.3L890.5,972.3L891.5,972.3L892.5,972.3L893.5,972.3L894.5,972.2L895.5,972.2L896.5,972.2L897.5,972.2L898.5,972.1L899.5,972.1L900.5,972.1L901.5,972.0L902.5,972.0L903.5,972.0L904.5,971.9L905.5,971.9L906.5,971.8L907.5,971.8L908.5,971.7L909.5,971.6L910.5,971.6L911.5,971.5L912.5,971.4L913.5,971.4L914.5,971.3L915.5,971.2L916.5,971.1L917.5,971.0L918.5,970.9L919.5,970.8L920.5,970.7L921.5,970.6L922.5,970.5L923.5,970.4L924.5,970.3L925.5,970.2L926.5,970.1L927.5,970.0L928.5,969.8L929.5,969.7L930.5,969.6L931.5,969.4L932.5,969.3L933.5,969.1L934.5,969.0L935.5,968.8L936.5,968.7L937.5,968.5L938.5,968.4L939.5,968.2L940.5,968.1L941.5,967.9L942.5,967.8L943.5,967.6L944.5,967.5L945.5,967.3L946.5,967.2L947.5,967.1L948.5,966.9L949.5,966.8L950.5,966.7L951.5,966.5L952.5,966.4L953.5,966.3L954.5,966.2L955.5,966.0L956.5,965.9L957.5,965.8L958.5,965.7L959.5,965.5L960.5,965.4L961.5,965.3L962.5,965.1L963.5,965.0L964.5,964.8L965.5,964.6L966.5,964.5L967.5,964.3L968.5,964.1L969.5,963.9L970.5,963.7L971.5,963.5L972.5,963.3L973.5,963.1L974.5,962.8L975.5,962.6L976.5,962.3L977.5,962.1L978.5,961.9L979.5,961.6L980.5,961.3L981.5,961.1L982.5,960.8L983.5,960.6L984.5,960.3L985.5,960.1L986.5,959.8L987.5,959.6L988.5,959.3L989.5,959.0L990.5,958.8L991.5,958.5L992.5,958.3L993.5,958.0L994.5,957.8L995.5,957.5L996.5,957.3L997.5,957.0L998.5,956.8L999.5,956.5L1000.5,956.3L1001.5,956.0L1002.5,955.8L1003.5,955.5L1004.5,955.3L1005.5,955.0L1006.5,954.8L1007.5,954.5L1008.5,954.2L1009.5,954.0L1010.5,953.7L1011.5,953.5L1012.5,953.2L1013.5,952.9L1014.5,952.7L1015.5,952.4L1016.5,952.1L1017.5,951.9L1018.5,951.6L1019.5,951.3L1020.5,951.0L1021.5,950.8L1022.5,950.5L1023.5,950.2L1024.5,949.9L1025.5,949.6L1026.5,949.3L1027.5,949.0L1028.5,948.7L1029.5,948.4L1030.5,948.1L1031.5,947.8L1032.5,947.5L1033.5,947.1L1034.5,946.8L1035.5,946.5L1036.5,946.1L1037.5,945.8L1038.5,945.4L1039.5,945.1L1040.5,944.7L1041.5,944.4L1042.5,944.0L1043.5,943.7L1044.5,943.3L1045.5,942.9L1046.5,942.5L1047.5,942.2L1048.5,941.8L1049.5,941.4L1050.5,941.0L1051.5,940.6L1052.5,940.2L1053.5,939.8L1054.5,939.4L1055.5,939.0L1056.5,938.6L1057.5,938.1L1058.5,937.7L1059.5,937.3L1060.5,936.8L1061.5,936.4L1062.5,935.9L1063.5,935.5L1064.5,935.0L1065.5,934.5L1066.5,934.0L1067.5,933.6L1068.5,933.1L1069.5,932.5L1070.5,932.0L1071.5,931.5L1072.5,931.0L1073.5,930.5L1074.5,929.9L1075.5,929.4L1076.5,928.8L1077.5,928.2L1078.5,927.7L1079.5,927.1L1080.5,926.5L1081.5,925.9L1082.5,925.3L1083.5,924.7L1084.5,924.0L1085.5,923.4L1086.5,922.8L1087.5,922.1L1088.5,921.5L1089.5,920.8L1090.5,920.1L1091.5,919.4L1092.5,918.7L1093.5,918.0L1094.5,917.3L1095.5,916.6L1096.5,915.9L1097.5,915.2L1098.5,914.4L1099.5,913.7L1100.5,913.0L1101.5,912.2L1102.5,911.5L1103.5,910.8L1104.5,910.1L1105.5,909.3L1106.5,908.6L1107.5,907.9L1108.5,907.2L1109.5,906.4L1110.5,905.7L1111.5,905.0L1112.5,904.3L1113.5,903.6L1114.5,902.9L1115.5,902.2L1116.5,901.5L1117.5,900.8L1118.5,900.1L1119.5,899.4L1120.5,898.8L1121.5,898.1L1122.5,897.4L1123.5,896.8L1124.5,896.1L1125.5,895.4L1126.5,894.8L1127.5,894.1L1128.5,893.5L1129.5,892.8L1130.5,892.2L1131.5,891.5L1132.5,890.9L1133.5,890.2L1134.5,889.5L1135.5,888.9L1136.5,888.2L1137.5,887.5L1138.5,886.8L1139.5,886.1L1140.5,885.4L1141.5,884.7L1142.5,883.9L1143.5,883.2L1144.5,882.5L1145.5,881.7L1146.5,881.0L1147.5,880.2L1148.5,879.5L1149.5,878.7L1150.5,878.0L1151.5,877.2L1152.5,876.5L1153.5,875.8L1154.5,875.0L1155.5,874.3L1156.5,873.6L1157.5,872.9L1158.5,872.2L1159.5,871.5L1160.5,870.8L1161.5,870.1L1162.5,869.4L1163.5,868.7L1164.5,868.0L1165.5,867.4L1166.5,866.7L1167.5,866.1L1168.5,865.4L1169.5,864.8L1170.5,864.1L1171.5,863.5L1172.5,862.8L1173.5,862.2L1174.5,861.5L1175.5,860.9L1176.5,860.2L1177.5,859.6L1178.5,859.0L1179.5,858.3L1180.5,857.7L1181.5,857.0L1182.5,856.4L1183.5,855.7L1184.5,855.1L1185.5,854.4L1186.5,853.8L1187.5,853.1L1188.5,852.5L1189.5,851.8L1190.5,851.2L1191.5,850.5L1192.5,849.8L1193.5,849.2L1194.5,848.5L1195.5,847.9L1196.5,847.2L1197.5,846.6L1198.5,845.9L1199.5,845.3L1200.5,844.7L1201.5,844.0L1202.5,843.4L1203.5,842.7L1204.5,842.1L1205.5,841.4L1206.5,840.8L1207.5,840.1L1208.5,839.5L1209.5,838.8L1210.5,838.2L1211.5,837.5L1212.5,836.9L1213.5,836.2L1214.5,835.6L1215.5,834.9L1216.5,834.3L1217.5,833.6L1218.5,833.0L1219.5,832.3L1220.5,831.7L1221.5,831.0L1222.5,830.4L1223.5,829.7L1224.5,829.1L1225.5,828.4L1226.5,827.7L1227.5,827.1L1228.5,826.4L1229.5,825.8L1230.5,825.2L1231.5,824.5L1232.5,823.9L1233.5,823.2L1234.5,822.6L1235.5,822.0L1236.5,821.4L1237.5,820.7L1238.5,820.1L1239.5,819.5L1240.5,818.9L1241.5,818.3L1242.5,817.7L1243.5,817.1L1244.5,816.5L1245.5,815.9L1246.5,815.3L1247.5,814.7L1248.5,814.1L1249.5,813.5L1250.5,812.9L1251.5,812.3L1252.5,811.8L1253.5,811.2L1254.5,810.6L1255.5,810.0L1256.5,809.5L1257.5,808.9L1258.5,808.3L1259.5,807.7L1260.5,807.2L1261.5,806.6L1262.5,806.1L1263.5,805.5L1264.5,805.0L1265.5,804.4L1266.5,803.8L1267.5,803.3L1268.5,802.8L1269.5,802.2L1270.5,801.7L1271.5,801.1L1272.5,800.6L1273.5,800.1L1274.5,799.5L1275.5,799.0L1276.5,798.5L1277.5,798.0L1278.5,797.4L1279.5,796.9L1280.5,796.4L1281.5,796.0L1282.5,795.5L1283.5,795.0L1284.5,794.5L1285.5,794.1L1286.5,793.6L1287.5,793.1L1288.5,792.7L1289.5,792.2L1290.5,791.7L1291.5,791.2L1292.5,790.7L1293.5,790.2L1294.5,789.6L1295.5,789.1L1296.5,788.5L1297.5,787.9L1298.5,787.3L1299.5,786.7L1300.5,786.0L1301.5,785.4L1302.5,784.8L1303.5,784.1L1304.5,783.5L1305.5,782.8L1306.5,782.2L1307.5,781.6L1308.5,781.0L1309.5,780.4L1310.5,779.8L1311.5,779.2L1312.5,778.7L1313.5,778.2L1314.5,777.6L1315.5,777.1L1316.5,776.6L1317.5,776.2L1318.5,775.7L1319.5,775.2L1320.5,774.8L1321.5,774.3L1322.5,773.8L1323.5,773.4L1324.5,773.0L1325.5,772.5L1326.5,772.1L1327.5,771.7L1328.5,771.3L1329.5,770.9L1330.5,770.5L1331.5,770.0L1332.5,769.6L1333.5,769.2L1334.5,768.8L1335.5,768.4L1336.5,768.0L1337.5,767.5L1338.5,767.1L1339.5,766.6L1340.5,766.1L1341.5,765.6L1342.5,765.1L1343.5,764.6L1344.5,764.0L1345.5,763.5L1346.5,762.9L1347.5,762.3L1348.5,761.8L1349.5,761.2L1350.5,760.6L1351.5,760.0L1352.5,759.4L1353.5,758.8L1354.5,758.2L1355.5,757.6L1356.5,757.1L1357.5,756.5L1358.5,756.0L1359.5,755.5L1360.5,754.9L1361.5,754.4L1362.5,753.9L1363.5,753.4L1364.5,753.0L1365.5,752.5L1366.5,752.0L1367.5,751.5L1368.5,751.0L1369.5,750.6L1370.5,750.1L1371.5,749.6L1372.5,749.1L1373.5,748.6L1374.5,748.0L1375.5,747.5L1376.5,747.0L1377.5,746.4L1378.5,745.9L1379.5,745.3L1380.5,744.8L1381.5,744.2L1382.5,743.6L1383.5,743.1L1384.5,742.6L1385.5,742.0L1386.5,741.5L1387.5,741.0L1388.5,740.6L1389.5,740.2L1390.5,739.8L1391.5,739.5L1392.5,739.2L1393.5,739.0L1394.5,738.8" fill="none" stroke="#111111" stroke-width="2.6"/><rect x="795.0" y="35.8" width="600.8" height="942.2" fill="none" stroke="#151515" stroke-width="3"/><path d="M795.0,350.2H1395.8M795.0,663.8H1395.8" stroke="#151515" stroke-width="3"/><path d="M880.5,350.2V338.2M966.4,350.2V343.2M1052.3,350.2V338.2M1138.2,350.2V343.2M1224.1,350.2V338.2M1310.0,350.2V343.2M880.5,663.8V651.8M966.4,663.8V656.8M1052.3,663.8V651.8M1138.2,663.8V656.8M1224.1,663.8V651.8M1310.0,663.8V656.8M880.5,978.0V966.0M966.4,978.0V971.0M1052.3,978.0V966.0M1138.2,978.0V971.0M1224.1,978.0V966.0M1310.0,978.0V971.0" stroke="#151515" stroke-width="2.6" fill="none"/><text x="91.3" y="93.7" style="font-family:'Liberation Sans',sans-serif;font-weight:bold;font-size:64px" fill="#000" >a</text><text x="814.9" y="99.9" style="font-family:'Liberation Sans',sans-serif;font-weight:bold;font-size:65px" fill="#000" >b</text><text x="273.2" y="89.4" style="font-family:'Liberation Serif',serif;font-weight:bold;font-size:31px" fill="#0505ff" >(040)</text><text x="83.8" y="269.4" style="font-family:'Liberation Serif',serif;font-weight:bold;font-size:37px" fill="#0505ff" >S3</text><text x="194.5" y="427.2" style="font-family:'Liberation Serif',serif;font-weight:bold;font-size:31.5px" fill="#00ee00" >(111)</text><text x="83.8" y="574.0" style="font-family:'Liberation Serif',serif;font-weight:bold;font-size:37px" fill="#00ee00" >S2</text><text x="189.1" y="692.8" style="font-family:'Liberation Serif',serif;font-weight:bold;font-size:31px" fill="#111111" >(120)</text><text x="79.2" y="884.2" style="font-family:'Liberation Serif',serif;font-weight:bold;font-size:37px" fill="#111111" >S1</text><text x="807.6" y="269.6" style="font-family:'Liberation Serif',serif;font-weight:bold;font-size:37px" fill="#0505ff" >S3</text><text x="832.0" y="326.5" style="font-family:'Liberation Serif',serif;font-weight:bold;font-size:31px" fill="#0505ff" >1.31 eV</text><text x="807.8" y="575.2" style="font-family:'Liberation Serif',serif;font-weight:bold;font-size:37px" fill="#00ee00" >S2</text><text x="825.7" y="643.5" style="font-family:'Liberation Serif',serif;font-weight:bold;font-size:31px" fill="#00ee00" >1.51 eV</text><text x="799.5" y="884.6" style="font-family:'Liberation Serif',serif;font-weight:bold;font-size:37px" fill="#111111" >S1</text><text x="819.1" y="956.2" style="font-family:'Liberation Serif',serif;font-weight:bold;font-size:31px" fill="#111111" >1.68 eV</text><text x="55.1" y="1006.3" style="font-family:'Liberation Serif',serif;font-weight:bold;font-size:31px" fill="#111">10</text><text x="100.7" y="1006.3" style="font-family:'Liberation Serif',serif;font-weight:bold;font-size:31px" fill="#111">15</text><text x="147.0" y="1006.3" style="font-family:'Liberation Serif',serif;font-weight:bold;font-size:31px" fill="#111">20</text><text x="192.6" y="1006.3" style="font-family:'Liberation Serif',serif;font-weight:bold;font-size:31px" fill="#111">25</text><text x="238.4" y="1006.3" style="font-family:'Liberation Serif',serif;font-weight:bold;font-size:31px" fill="#111">30</text><text x="284.0" y="1006.3" style="font-family:'Liberation Serif',serif;font-weight:bold;font-size:31px" fill="#111">35</text><text x="330.1" y="1006.3" style="font-family:'Liberation Serif',serif;font-weight:bold;font-size:31px" fill="#111">40</text><text x="375.6" y="1006.3" style="font-family:'Liberation Serif',serif;font-weight:bold;font-size:31px" fill="#111">45</text><text x="421.0" y="1006.3" style="font-family:'Liberation Serif',serif;font-weight:bold;font-size:31px" fill="#111">50</text><text x="466.6" y="1006.3" style="font-family:'Liberation Serif',serif;font-weight:bold;font-size:31px" fill="#111">55</text><text x="512.4" y="1006.3" style="font-family:'Liberation Serif',serif;font-weight:bold;font-size:31px" fill="#111">60</text><text x="558.0" y="1006.3" style="font-family:'Liberation Serif',serif;font-weight:bold;font-size:31px" fill="#111">65</text><text x="603.4" y="1006.3" style="font-family:'Liberation Serif',serif;font-weight:bold;font-size:31px" fill="#111">70</text><text x="649.0" y="1006.3" style="font-family:'Liberation Serif',serif;font-weight:bold;font-size:31px" fill="#111">75</text><text x="872.8" y="1016.0" style="font-family:'Liberation Serif',serif;font-weight:bold;font-size:29px" fill="#111">1</text><text x="1045.1" y="1016.0" style="font-family:'Liberation Serif',serif;font-weight:bold;font-size:29px" fill="#111">2</text><text x="1216.8" y="1015.7" style="font-family:'Liberation Serif',serif;font-weight:bold;font-size:29px" fill="#111">3</text><text x="1388.7" y="1016.0" style="font-family:'Liberation Serif',serif;font-weight:bold;font-size:29px" fill="#111">4</text><text x="303.4" y="1067.0" style="font-family:'Liberation Serif',serif;font-weight:bold;font-size:43.5px" fill="#111" >2 theta</text><text x="1038" y="1064" style="font-family:'Liberation Serif',serif;font-weight:bold;font-size:37px" fill="#111"><tspan font-style="italic">hv</tspan> (eV)</text><text transform="translate(53.3,694.5) rotate(-90)" style="font-family:'Liberation Serif',serif;font-weight:bold;font-size:45.5px" fill="#111">Normalized Intensity</text><text transform="translate(761.5,569.2) rotate(-90) scale(0.94,1)" style="font-family:'Liberation Serif',serif;font-weight:bold;font-style:italic;font-size:39px" fill="#111">(&#945;hv)</text><text transform="translate(745,486.8) rotate(-90)" style="font-family:'Liberation Serif',serif;font-weight:bold;font-style:italic;font-size:25px" fill="#111">2</text><text transform="translate(761.5,473.6) rotate(-90) scale(1.03,1)" style="font-family:'Liberation Serif',serif;font-weight:bold;font-style:italic;font-size:39px" fill="#111">(eV)</text><text transform="translate(745,400.3) rotate(-90)" style="font-family:'Liberation Serif',serif;font-weight:bold;font-style:italic;font-size:25px" fill="#111">2</text></svg></body></html>
